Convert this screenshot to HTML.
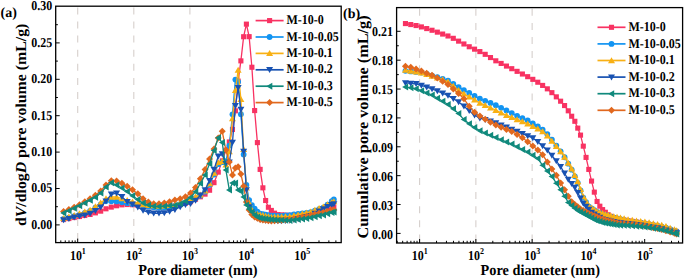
<!DOCTYPE html>
<html><head><meta charset="utf-8"><style>html,body{margin:0;padding:0;background:#fff;}svg{display:block;}</style></head><body>
<svg width="685" height="279" viewBox="0 0 685 279" font-family='"Liberation Serif", serif' text-rendering="geometricPrecision">
<rect width="685" height="279" fill="#fff"/>
<line x1="77.70" y1="7.40" x2="77.70" y2="242.60" stroke="#d6cfcc" stroke-width="1.1" stroke-dasharray="7 7.1"/>
<line x1="133.80" y1="7.40" x2="133.80" y2="242.60" stroke="#d6cfcc" stroke-width="1.1" stroke-dasharray="7 7.1"/>
<line x1="189.90" y1="7.40" x2="189.90" y2="242.60" stroke="#d6cfcc" stroke-width="1.1" stroke-dasharray="7 7.1"/>
<line x1="419.60" y1="8.80" x2="419.60" y2="243.00" stroke="#d6cfcc" stroke-width="1.1" stroke-dasharray="7 7.1"/>
<line x1="475.87" y1="8.80" x2="475.87" y2="243.00" stroke="#d6cfcc" stroke-width="1.1" stroke-dasharray="7 7.1"/>
<line x1="532.14" y1="8.80" x2="532.14" y2="243.00" stroke="#d6cfcc" stroke-width="1.1" stroke-dasharray="7 7.1"/>
<path d="M63.59 219.59 L68.89 218.56 L74.19 217.54 L79.49 216.52 L84.79 215.50 L90.09 214.47 L95.39 212.87 L100.69 211.15 L105.99 208.80 L111.29 207.11 L116.59 205.77 L121.89 204.86 L127.19 204.54 L132.49 204.72 L137.79 205.26 L143.09 205.80 L148.39 206.23 L153.69 206.58 L158.99 206.93 L164.29 206.71 L169.59 206.36 L174.89 206.01 L180.19 204.62 L185.46 203.21 L190.57 201.72 L195.53 199.23 L200.36 196.80 L205.04 194.12 L209.59 190.23 L214.01 182.65 L218.28 172.13 L222.24 160.88 L225.91 150.19 L229.32 141.97 L232.47 129.46 L235.39 110.84 L238.14 81.07 L240.89 60.88 L243.64 36.73 L246.39 24.13 L249.14 36.65 L251.89 67.24 L254.64 110.57 L257.39 142.61 L260.14 169.38 L262.89 187.83 L265.64 200.52 L268.39 207.26 L271.35 210.43 L274.52 213.18 L277.92 214.61 L281.58 214.85 L285.51 215.10 L289.71 215.38 L293.91 215.13 L298.11 214.83 L302.31 214.54 L306.51 214.24 L310.71 213.86 L314.91 213.02 L319.11 212.18 L323.31 211.34 L327.51 209.81 L331.71 207.82 L333.85 207.00" fill="none" stroke="#F83262" stroke-width="1.3"/>
<g><rect x="61.04" y="217.04" width="5.10" height="5.10" fill="#F83262"/><rect x="66.34" y="216.01" width="5.10" height="5.10" fill="#F83262"/><rect x="71.64" y="214.99" width="5.10" height="5.10" fill="#F83262"/><rect x="76.94" y="213.97" width="5.10" height="5.10" fill="#F83262"/><rect x="82.24" y="212.95" width="5.10" height="5.10" fill="#F83262"/><rect x="87.54" y="211.92" width="5.10" height="5.10" fill="#F83262"/><rect x="92.84" y="210.32" width="5.10" height="5.10" fill="#F83262"/><rect x="98.14" y="208.60" width="5.10" height="5.10" fill="#F83262"/><rect x="103.44" y="206.25" width="5.10" height="5.10" fill="#F83262"/><rect x="108.74" y="204.56" width="5.10" height="5.10" fill="#F83262"/><rect x="114.04" y="203.22" width="5.10" height="5.10" fill="#F83262"/><rect x="119.34" y="202.31" width="5.10" height="5.10" fill="#F83262"/><rect x="124.64" y="201.99" width="5.10" height="5.10" fill="#F83262"/><rect x="129.94" y="202.17" width="5.10" height="5.10" fill="#F83262"/><rect x="135.24" y="202.71" width="5.10" height="5.10" fill="#F83262"/><rect x="140.54" y="203.25" width="5.10" height="5.10" fill="#F83262"/><rect x="145.84" y="203.68" width="5.10" height="5.10" fill="#F83262"/><rect x="151.14" y="204.03" width="5.10" height="5.10" fill="#F83262"/><rect x="156.44" y="204.38" width="5.10" height="5.10" fill="#F83262"/><rect x="161.74" y="204.16" width="5.10" height="5.10" fill="#F83262"/><rect x="167.04" y="203.81" width="5.10" height="5.10" fill="#F83262"/><rect x="172.34" y="203.46" width="5.10" height="5.10" fill="#F83262"/><rect x="177.64" y="202.07" width="5.10" height="5.10" fill="#F83262"/><rect x="182.91" y="200.66" width="5.10" height="5.10" fill="#F83262"/><rect x="188.02" y="199.17" width="5.10" height="5.10" fill="#F83262"/><rect x="192.98" y="196.68" width="5.10" height="5.10" fill="#F83262"/><rect x="197.81" y="194.25" width="5.10" height="5.10" fill="#F83262"/><rect x="202.49" y="191.57" width="5.10" height="5.10" fill="#F83262"/><rect x="207.04" y="187.68" width="5.10" height="5.10" fill="#F83262"/><rect x="211.46" y="180.10" width="5.10" height="5.10" fill="#F83262"/><rect x="215.73" y="169.58" width="5.10" height="5.10" fill="#F83262"/><rect x="219.69" y="158.33" width="5.10" height="5.10" fill="#F83262"/><rect x="223.36" y="147.64" width="5.10" height="5.10" fill="#F83262"/><rect x="226.77" y="139.42" width="5.10" height="5.10" fill="#F83262"/><rect x="229.92" y="126.91" width="5.10" height="5.10" fill="#F83262"/><rect x="232.84" y="108.29" width="5.10" height="5.10" fill="#F83262"/><rect x="235.59" y="78.52" width="5.10" height="5.10" fill="#F83262"/><rect x="238.34" y="58.33" width="5.10" height="5.10" fill="#F83262"/><rect x="241.09" y="34.18" width="5.10" height="5.10" fill="#F83262"/><rect x="243.84" y="21.58" width="5.10" height="5.10" fill="#F83262"/><rect x="246.59" y="34.10" width="5.10" height="5.10" fill="#F83262"/><rect x="249.34" y="64.69" width="5.10" height="5.10" fill="#F83262"/><rect x="252.09" y="108.02" width="5.10" height="5.10" fill="#F83262"/><rect x="254.84" y="140.06" width="5.10" height="5.10" fill="#F83262"/><rect x="257.59" y="166.83" width="5.10" height="5.10" fill="#F83262"/><rect x="260.34" y="185.28" width="5.10" height="5.10" fill="#F83262"/><rect x="263.09" y="197.97" width="5.10" height="5.10" fill="#F83262"/><rect x="265.84" y="204.71" width="5.10" height="5.10" fill="#F83262"/><rect x="268.80" y="207.88" width="5.10" height="5.10" fill="#F83262"/><rect x="271.97" y="210.63" width="5.10" height="5.10" fill="#F83262"/><rect x="275.37" y="212.06" width="5.10" height="5.10" fill="#F83262"/><rect x="279.03" y="212.30" width="5.10" height="5.10" fill="#F83262"/><rect x="282.96" y="212.55" width="5.10" height="5.10" fill="#F83262"/><rect x="287.16" y="212.83" width="5.10" height="5.10" fill="#F83262"/><rect x="291.36" y="212.58" width="5.10" height="5.10" fill="#F83262"/><rect x="295.56" y="212.28" width="5.10" height="5.10" fill="#F83262"/><rect x="299.76" y="211.99" width="5.10" height="5.10" fill="#F83262"/><rect x="303.96" y="211.69" width="5.10" height="5.10" fill="#F83262"/><rect x="308.16" y="211.31" width="5.10" height="5.10" fill="#F83262"/><rect x="312.36" y="210.47" width="5.10" height="5.10" fill="#F83262"/><rect x="316.56" y="209.63" width="5.10" height="5.10" fill="#F83262"/><rect x="320.76" y="208.79" width="5.10" height="5.10" fill="#F83262"/><rect x="324.96" y="207.26" width="5.10" height="5.10" fill="#F83262"/><rect x="329.16" y="205.27" width="5.10" height="5.10" fill="#F83262"/><rect x="331.30" y="204.45" width="5.10" height="5.10" fill="#F83262"/></g>
<path d="M63.59 218.95 L68.89 217.58 L74.19 216.22 L79.49 214.64 L84.79 212.80 L90.09 210.95 L95.39 207.77 L100.69 204.52 L105.99 201.01 L111.29 201.23 L116.59 201.46 L121.89 202.23 L127.19 203.13 L132.49 204.00 L137.79 204.84 L143.09 205.69 L148.39 206.45 L153.69 207.16 L158.99 207.87 L164.29 207.43 L169.59 206.72 L174.89 206.01 L180.19 204.27 L185.46 202.51 L190.57 200.72 L195.53 198.23 L200.36 195.69 L205.04 191.68 L209.59 184.82 L214.01 174.48 L218.28 164.21 L222.24 162.21 L225.91 161.06 L229.32 145.62 L232.47 114.35 L235.39 79.54 L238.14 81.86 L240.89 114.18 L243.64 154.45 L246.39 184.92 L249.14 200.04 L251.89 205.07 L254.64 208.59 L257.39 211.57 L260.14 213.53 L262.89 214.08 L265.64 214.63 L268.39 215.18 L271.35 215.57 L274.52 215.73 L277.92 215.90 L281.58 215.84 L285.51 215.45 L289.71 215.03 L293.91 214.51 L298.11 213.99 L302.31 213.46 L306.51 212.94 L310.71 212.24 L314.91 210.70 L319.11 209.16 L323.31 207.62 L327.51 204.77 L331.71 201.04 L333.85 199.50" fill="none" stroke="#1294F2" stroke-width="1.3"/>
<g><circle cx="63.59" cy="218.95" r="2.90" fill="#1294F2"/><circle cx="68.89" cy="217.58" r="2.90" fill="#1294F2"/><circle cx="74.19" cy="216.22" r="2.90" fill="#1294F2"/><circle cx="79.49" cy="214.64" r="2.90" fill="#1294F2"/><circle cx="84.79" cy="212.80" r="2.90" fill="#1294F2"/><circle cx="90.09" cy="210.95" r="2.90" fill="#1294F2"/><circle cx="95.39" cy="207.77" r="2.90" fill="#1294F2"/><circle cx="100.69" cy="204.52" r="2.90" fill="#1294F2"/><circle cx="105.99" cy="201.01" r="2.90" fill="#1294F2"/><circle cx="111.29" cy="201.23" r="2.90" fill="#1294F2"/><circle cx="116.59" cy="201.46" r="2.90" fill="#1294F2"/><circle cx="121.89" cy="202.23" r="2.90" fill="#1294F2"/><circle cx="127.19" cy="203.13" r="2.90" fill="#1294F2"/><circle cx="132.49" cy="204.00" r="2.90" fill="#1294F2"/><circle cx="137.79" cy="204.84" r="2.90" fill="#1294F2"/><circle cx="143.09" cy="205.69" r="2.90" fill="#1294F2"/><circle cx="148.39" cy="206.45" r="2.90" fill="#1294F2"/><circle cx="153.69" cy="207.16" r="2.90" fill="#1294F2"/><circle cx="158.99" cy="207.87" r="2.90" fill="#1294F2"/><circle cx="164.29" cy="207.43" r="2.90" fill="#1294F2"/><circle cx="169.59" cy="206.72" r="2.90" fill="#1294F2"/><circle cx="174.89" cy="206.01" r="2.90" fill="#1294F2"/><circle cx="180.19" cy="204.27" r="2.90" fill="#1294F2"/><circle cx="185.46" cy="202.51" r="2.90" fill="#1294F2"/><circle cx="190.57" cy="200.72" r="2.90" fill="#1294F2"/><circle cx="195.53" cy="198.23" r="2.90" fill="#1294F2"/><circle cx="200.36" cy="195.69" r="2.90" fill="#1294F2"/><circle cx="205.04" cy="191.68" r="2.90" fill="#1294F2"/><circle cx="209.59" cy="184.82" r="2.90" fill="#1294F2"/><circle cx="214.01" cy="174.48" r="2.90" fill="#1294F2"/><circle cx="218.28" cy="164.21" r="2.90" fill="#1294F2"/><circle cx="222.24" cy="162.21" r="2.90" fill="#1294F2"/><circle cx="225.91" cy="161.06" r="2.90" fill="#1294F2"/><circle cx="229.32" cy="145.62" r="2.90" fill="#1294F2"/><circle cx="232.47" cy="114.35" r="2.90" fill="#1294F2"/><circle cx="235.39" cy="79.54" r="2.90" fill="#1294F2"/><circle cx="238.14" cy="81.86" r="2.90" fill="#1294F2"/><circle cx="240.89" cy="114.18" r="2.90" fill="#1294F2"/><circle cx="243.64" cy="154.45" r="2.90" fill="#1294F2"/><circle cx="246.39" cy="184.92" r="2.90" fill="#1294F2"/><circle cx="249.14" cy="200.04" r="2.90" fill="#1294F2"/><circle cx="251.89" cy="205.07" r="2.90" fill="#1294F2"/><circle cx="254.64" cy="208.59" r="2.90" fill="#1294F2"/><circle cx="257.39" cy="211.57" r="2.90" fill="#1294F2"/><circle cx="260.14" cy="213.53" r="2.90" fill="#1294F2"/><circle cx="262.89" cy="214.08" r="2.90" fill="#1294F2"/><circle cx="265.64" cy="214.63" r="2.90" fill="#1294F2"/><circle cx="268.39" cy="215.18" r="2.90" fill="#1294F2"/><circle cx="271.35" cy="215.57" r="2.90" fill="#1294F2"/><circle cx="274.52" cy="215.73" r="2.90" fill="#1294F2"/><circle cx="277.92" cy="215.90" r="2.90" fill="#1294F2"/><circle cx="281.58" cy="215.84" r="2.90" fill="#1294F2"/><circle cx="285.51" cy="215.45" r="2.90" fill="#1294F2"/><circle cx="289.71" cy="215.03" r="2.90" fill="#1294F2"/><circle cx="293.91" cy="214.51" r="2.90" fill="#1294F2"/><circle cx="298.11" cy="213.99" r="2.90" fill="#1294F2"/><circle cx="302.31" cy="213.46" r="2.90" fill="#1294F2"/><circle cx="306.51" cy="212.94" r="2.90" fill="#1294F2"/><circle cx="310.71" cy="212.24" r="2.90" fill="#1294F2"/><circle cx="314.91" cy="210.70" r="2.90" fill="#1294F2"/><circle cx="319.11" cy="209.16" r="2.90" fill="#1294F2"/><circle cx="323.31" cy="207.62" r="2.90" fill="#1294F2"/><circle cx="327.51" cy="204.77" r="2.90" fill="#1294F2"/><circle cx="331.71" cy="201.04" r="2.90" fill="#1294F2"/><circle cx="333.85" cy="199.50" r="2.90" fill="#1294F2"/></g>
<path d="M63.59 218.38 L68.89 216.85 L74.19 215.31 L79.49 213.64 L84.79 211.80 L90.09 209.94 L95.39 206.50 L100.69 202.92 L105.99 198.51 L111.29 197.00 L116.59 197.00 L121.89 198.58 L127.19 200.29 L132.49 201.79 L137.79 203.15 L143.09 204.51 L148.39 205.23 L153.69 205.58 L158.99 205.93 L164.29 205.71 L169.59 205.36 L174.89 205.01 L180.19 202.92 L185.46 200.82 L190.57 198.77 L195.53 196.79 L200.36 194.69 L205.04 190.68 L209.59 183.50 L214.01 172.98 L218.28 162.30 L222.24 161.36 L225.91 164.81 L229.32 151.46 L232.47 118.64 L235.39 90.22 L238.14 70.00 L240.89 99.24 L243.64 149.31 L246.39 187.90 L249.14 203.06 L251.89 210.07 L254.64 213.52 L257.39 214.14 L260.14 214.77 L262.89 215.39 L265.64 216.01 L268.39 216.64 L271.35 216.97 L274.52 216.89 L277.92 216.80 L281.58 216.71 L285.51 216.61 L289.71 216.51 L293.91 215.62 L298.11 214.68 L302.31 213.73 L306.51 212.79 L310.71 211.72 L314.91 210.04 L319.11 208.36 L323.31 206.68 L327.51 204.66 L331.71 202.42 L333.85 201.50" fill="none" stroke="#F8B014" stroke-width="1.3"/>
<g><path d="M63.59 215.08L67.09 221.08L60.09 221.08Z" fill="#F8B014"/><path d="M68.89 213.55L72.39 219.55L65.39 219.55Z" fill="#F8B014"/><path d="M74.19 212.01L77.69 218.01L70.69 218.01Z" fill="#F8B014"/><path d="M79.49 210.34L82.99 216.34L75.99 216.34Z" fill="#F8B014"/><path d="M84.79 208.50L88.29 214.50L81.29 214.50Z" fill="#F8B014"/><path d="M90.09 206.64L93.59 212.64L86.59 212.64Z" fill="#F8B014"/><path d="M95.39 203.20L98.89 209.20L91.89 209.20Z" fill="#F8B014"/><path d="M100.69 199.62L104.19 205.62L97.19 205.62Z" fill="#F8B014"/><path d="M105.99 195.21L109.49 201.21L102.49 201.21Z" fill="#F8B014"/><path d="M111.29 193.70L114.79 199.70L107.79 199.70Z" fill="#F8B014"/><path d="M116.59 193.70L120.09 199.70L113.09 199.70Z" fill="#F8B014"/><path d="M121.89 195.28L125.39 201.28L118.39 201.28Z" fill="#F8B014"/><path d="M127.19 196.99L130.69 202.99L123.69 202.99Z" fill="#F8B014"/><path d="M132.49 198.49L135.99 204.49L128.99 204.49Z" fill="#F8B014"/><path d="M137.79 199.85L141.29 205.85L134.29 205.85Z" fill="#F8B014"/><path d="M143.09 201.21L146.59 207.21L139.59 207.21Z" fill="#F8B014"/><path d="M148.39 201.93L151.89 207.93L144.89 207.93Z" fill="#F8B014"/><path d="M153.69 202.28L157.19 208.28L150.19 208.28Z" fill="#F8B014"/><path d="M158.99 202.63L162.49 208.63L155.49 208.63Z" fill="#F8B014"/><path d="M164.29 202.41L167.79 208.41L160.79 208.41Z" fill="#F8B014"/><path d="M169.59 202.06L173.09 208.06L166.09 208.06Z" fill="#F8B014"/><path d="M174.89 201.71L178.39 207.71L171.39 207.71Z" fill="#F8B014"/><path d="M180.19 199.62L183.69 205.62L176.69 205.62Z" fill="#F8B014"/><path d="M185.46 197.52L188.96 203.52L181.96 203.52Z" fill="#F8B014"/><path d="M190.57 195.47L194.07 201.47L187.07 201.47Z" fill="#F8B014"/><path d="M195.53 193.49L199.03 199.49L192.03 199.49Z" fill="#F8B014"/><path d="M200.36 191.39L203.86 197.39L196.86 197.39Z" fill="#F8B014"/><path d="M205.04 187.38L208.54 193.38L201.54 193.38Z" fill="#F8B014"/><path d="M209.59 180.20L213.09 186.20L206.09 186.20Z" fill="#F8B014"/><path d="M214.01 169.68L217.51 175.68L210.51 175.68Z" fill="#F8B014"/><path d="M218.28 159.00L221.78 165.00L214.78 165.00Z" fill="#F8B014"/><path d="M222.24 158.06L225.74 164.06L218.74 164.06Z" fill="#F8B014"/><path d="M225.91 161.51L229.41 167.51L222.41 167.51Z" fill="#F8B014"/><path d="M229.32 148.16L232.82 154.16L225.82 154.16Z" fill="#F8B014"/><path d="M232.47 115.34L235.97 121.34L228.97 121.34Z" fill="#F8B014"/><path d="M235.39 86.92L238.89 92.92L231.89 92.92Z" fill="#F8B014"/><path d="M238.14 66.70L241.64 72.70L234.64 72.70Z" fill="#F8B014"/><path d="M240.89 95.94L244.39 101.94L237.39 101.94Z" fill="#F8B014"/><path d="M243.64 146.01L247.14 152.01L240.14 152.01Z" fill="#F8B014"/><path d="M246.39 184.60L249.89 190.60L242.89 190.60Z" fill="#F8B014"/><path d="M249.14 199.76L252.64 205.76L245.64 205.76Z" fill="#F8B014"/><path d="M251.89 206.77L255.39 212.77L248.39 212.77Z" fill="#F8B014"/><path d="M254.64 210.22L258.14 216.22L251.14 216.22Z" fill="#F8B014"/><path d="M257.39 210.84L260.89 216.84L253.89 216.84Z" fill="#F8B014"/><path d="M260.14 211.47L263.64 217.47L256.64 217.47Z" fill="#F8B014"/><path d="M262.89 212.09L266.39 218.09L259.39 218.09Z" fill="#F8B014"/><path d="M265.64 212.71L269.14 218.71L262.14 218.71Z" fill="#F8B014"/><path d="M268.39 213.34L271.89 219.34L264.89 219.34Z" fill="#F8B014"/><path d="M271.35 213.67L274.85 219.67L267.85 219.67Z" fill="#F8B014"/><path d="M274.52 213.59L278.02 219.59L271.02 219.59Z" fill="#F8B014"/><path d="M277.92 213.50L281.42 219.50L274.42 219.50Z" fill="#F8B014"/><path d="M281.58 213.41L285.08 219.41L278.08 219.41Z" fill="#F8B014"/><path d="M285.51 213.31L289.01 219.31L282.01 219.31Z" fill="#F8B014"/><path d="M289.71 213.21L293.21 219.21L286.21 219.21Z" fill="#F8B014"/><path d="M293.91 212.32L297.41 218.32L290.41 218.32Z" fill="#F8B014"/><path d="M298.11 211.38L301.61 217.38L294.61 217.38Z" fill="#F8B014"/><path d="M302.31 210.43L305.81 216.43L298.81 216.43Z" fill="#F8B014"/><path d="M306.51 209.49L310.01 215.49L303.01 215.49Z" fill="#F8B014"/><path d="M310.71 208.42L314.21 214.42L307.21 214.42Z" fill="#F8B014"/><path d="M314.91 206.74L318.41 212.74L311.41 212.74Z" fill="#F8B014"/><path d="M319.11 205.06L322.61 211.06L315.61 211.06Z" fill="#F8B014"/><path d="M323.31 203.38L326.81 209.38L319.81 209.38Z" fill="#F8B014"/><path d="M327.51 201.36L331.01 207.36L324.01 207.36Z" fill="#F8B014"/><path d="M331.71 199.12L335.21 205.12L328.21 205.12Z" fill="#F8B014"/><path d="M333.85 198.20L337.35 204.20L330.35 204.20Z" fill="#F8B014"/></g>
<path d="M63.59 219.95 L68.89 218.58 L74.19 217.22 L79.49 216.05 L84.79 215.08 L90.09 213.45 L95.39 210.74 L100.69 207.23 L105.99 201.18 L111.29 194.28 L116.59 193.08 L121.89 196.76 L127.19 201.61 L132.49 204.28 L137.79 207.27 L143.09 210.51 L148.39 212.25 L153.69 213.32 L158.99 213.28 L164.29 213.01 L169.59 211.43 L174.89 209.70 L180.19 206.96 L185.46 204.69 L190.57 203.59 L195.53 200.36 L200.36 195.22 L205.04 189.91 L209.59 180.64 L214.01 169.54 L218.28 156.22 L222.24 153.90 L225.91 163.69 L229.32 162.25 L232.47 142.43 L235.39 105.68 L238.14 87.80 L240.89 109.44 L243.64 151.42 L246.39 189.90 L249.14 207.05 L251.89 213.57 L254.64 217.04 L257.39 218.30 L260.14 219.52 L262.89 219.93 L265.64 220.35 L268.39 220.76 L271.35 221.00 L274.52 221.00 L277.92 221.00 L281.58 220.92 L285.51 220.72 L289.71 220.51 L293.91 219.62 L298.11 218.68 L302.31 217.73 L306.51 216.79 L310.71 215.62 L314.91 213.38 L319.11 211.14 L323.31 208.90 L327.51 206.81 L331.71 204.82 L333.85 204.00" fill="none" stroke="#1852B2" stroke-width="1.3"/>
<g><path d="M63.59 223.25L67.09 217.25L60.09 217.25Z" fill="#1852B2"/><path d="M68.89 221.88L72.39 215.88L65.39 215.88Z" fill="#1852B2"/><path d="M74.19 220.52L77.69 214.52L70.69 214.52Z" fill="#1852B2"/><path d="M79.49 219.35L82.99 213.35L75.99 213.35Z" fill="#1852B2"/><path d="M84.79 218.38L88.29 212.38L81.29 212.38Z" fill="#1852B2"/><path d="M90.09 216.75L93.59 210.75L86.59 210.75Z" fill="#1852B2"/><path d="M95.39 214.04L98.89 208.04L91.89 208.04Z" fill="#1852B2"/><path d="M100.69 210.53L104.19 204.53L97.19 204.53Z" fill="#1852B2"/><path d="M105.99 204.48L109.49 198.48L102.49 198.48Z" fill="#1852B2"/><path d="M111.29 197.58L114.79 191.58L107.79 191.58Z" fill="#1852B2"/><path d="M116.59 196.38L120.09 190.38L113.09 190.38Z" fill="#1852B2"/><path d="M121.89 200.06L125.39 194.06L118.39 194.06Z" fill="#1852B2"/><path d="M127.19 204.91L130.69 198.91L123.69 198.91Z" fill="#1852B2"/><path d="M132.49 207.58L135.99 201.58L128.99 201.58Z" fill="#1852B2"/><path d="M137.79 210.57L141.29 204.57L134.29 204.57Z" fill="#1852B2"/><path d="M143.09 213.81L146.59 207.81L139.59 207.81Z" fill="#1852B2"/><path d="M148.39 215.55L151.89 209.55L144.89 209.55Z" fill="#1852B2"/><path d="M153.69 216.62L157.19 210.62L150.19 210.62Z" fill="#1852B2"/><path d="M158.99 216.58L162.49 210.58L155.49 210.58Z" fill="#1852B2"/><path d="M164.29 216.31L167.79 210.31L160.79 210.31Z" fill="#1852B2"/><path d="M169.59 214.73L173.09 208.73L166.09 208.73Z" fill="#1852B2"/><path d="M174.89 213.00L178.39 207.00L171.39 207.00Z" fill="#1852B2"/><path d="M180.19 210.26L183.69 204.26L176.69 204.26Z" fill="#1852B2"/><path d="M185.46 207.99L188.96 201.99L181.96 201.99Z" fill="#1852B2"/><path d="M190.57 206.89L194.07 200.89L187.07 200.89Z" fill="#1852B2"/><path d="M195.53 203.66L199.03 197.66L192.03 197.66Z" fill="#1852B2"/><path d="M200.36 198.52L203.86 192.52L196.86 192.52Z" fill="#1852B2"/><path d="M205.04 193.21L208.54 187.21L201.54 187.21Z" fill="#1852B2"/><path d="M209.59 183.94L213.09 177.94L206.09 177.94Z" fill="#1852B2"/><path d="M214.01 172.84L217.51 166.84L210.51 166.84Z" fill="#1852B2"/><path d="M218.28 159.52L221.78 153.52L214.78 153.52Z" fill="#1852B2"/><path d="M222.24 157.20L225.74 151.20L218.74 151.20Z" fill="#1852B2"/><path d="M225.91 166.99L229.41 160.99L222.41 160.99Z" fill="#1852B2"/><path d="M229.32 165.55L232.82 159.55L225.82 159.55Z" fill="#1852B2"/><path d="M232.47 145.73L235.97 139.73L228.97 139.73Z" fill="#1852B2"/><path d="M235.39 108.98L238.89 102.98L231.89 102.98Z" fill="#1852B2"/><path d="M238.14 91.10L241.64 85.10L234.64 85.10Z" fill="#1852B2"/><path d="M240.89 112.74L244.39 106.74L237.39 106.74Z" fill="#1852B2"/><path d="M243.64 154.72L247.14 148.72L240.14 148.72Z" fill="#1852B2"/><path d="M246.39 193.20L249.89 187.20L242.89 187.20Z" fill="#1852B2"/><path d="M249.14 210.35L252.64 204.35L245.64 204.35Z" fill="#1852B2"/><path d="M251.89 216.87L255.39 210.87L248.39 210.87Z" fill="#1852B2"/><path d="M254.64 220.34L258.14 214.34L251.14 214.34Z" fill="#1852B2"/><path d="M257.39 221.60L260.89 215.60L253.89 215.60Z" fill="#1852B2"/><path d="M260.14 222.82L263.64 216.82L256.64 216.82Z" fill="#1852B2"/><path d="M262.89 223.23L266.39 217.23L259.39 217.23Z" fill="#1852B2"/><path d="M265.64 223.65L269.14 217.65L262.14 217.65Z" fill="#1852B2"/><path d="M268.39 224.06L271.89 218.06L264.89 218.06Z" fill="#1852B2"/><path d="M271.35 224.30L274.85 218.30L267.85 218.30Z" fill="#1852B2"/><path d="M274.52 224.30L278.02 218.30L271.02 218.30Z" fill="#1852B2"/><path d="M277.92 224.30L281.42 218.30L274.42 218.30Z" fill="#1852B2"/><path d="M281.58 224.22L285.08 218.22L278.08 218.22Z" fill="#1852B2"/><path d="M285.51 224.02L289.01 218.02L282.01 218.02Z" fill="#1852B2"/><path d="M289.71 223.81L293.21 217.81L286.21 217.81Z" fill="#1852B2"/><path d="M293.91 222.92L297.41 216.92L290.41 216.92Z" fill="#1852B2"/><path d="M298.11 221.98L301.61 215.98L294.61 215.98Z" fill="#1852B2"/><path d="M302.31 221.03L305.81 215.03L298.81 215.03Z" fill="#1852B2"/><path d="M306.51 220.09L310.01 214.09L303.01 214.09Z" fill="#1852B2"/><path d="M310.71 218.92L314.21 212.92L307.21 212.92Z" fill="#1852B2"/><path d="M314.91 216.68L318.41 210.68L311.41 210.68Z" fill="#1852B2"/><path d="M319.11 214.44L322.61 208.44L315.61 208.44Z" fill="#1852B2"/><path d="M323.31 212.20L326.81 206.20L319.81 206.20Z" fill="#1852B2"/><path d="M327.51 210.11L331.01 204.11L324.01 204.11Z" fill="#1852B2"/><path d="M331.71 208.12L335.21 202.12L328.21 202.12Z" fill="#1852B2"/><path d="M333.85 207.30L337.35 201.30L330.35 201.30Z" fill="#1852B2"/></g>
<path d="M63.59 211.60 L68.89 209.39 L74.19 207.17 L79.49 204.64 L84.79 201.75 L90.09 198.67 L95.39 195.30 L100.69 191.05 L105.99 185.01 L111.29 180.87 L116.59 180.98 L121.89 183.13 L127.19 186.37 L132.49 189.68 L137.79 193.75 L143.09 198.82 L148.39 202.07 L153.69 203.70 L158.99 203.66 L164.29 202.91 L169.59 201.86 L174.89 199.89 L180.19 198.70 L185.46 196.82 L190.57 192.99 L195.53 187.51 L200.36 178.83 L205.04 169.62 L209.59 159.12 L214.01 148.98 L218.28 137.93 L222.24 131.34 L225.91 150.05 L229.32 162.06 L232.47 174.88 L235.39 168.02 L238.14 166.71 L240.89 173.98 L243.64 186.24 L246.39 201.96 L249.14 210.07 L251.89 214.55 L254.64 217.04 L257.39 218.30 L260.14 219.52 L262.89 219.93 L265.64 220.35 L268.39 220.76 L271.35 220.90 L274.52 220.66 L277.92 220.41 L281.58 220.13 L285.51 219.84 L289.71 219.52 L293.91 218.72 L298.11 217.88 L302.31 217.04 L306.51 216.20 L310.71 215.33 L314.91 214.35 L319.11 213.37 L323.31 212.39 L327.51 211.41 L331.71 210.41 L333.85 210.00" fill="none" stroke="#E1681E" stroke-width="1.3"/>
<g><path d="M63.59 208.10L67.09 211.60L63.59 215.10L60.09 211.60Z" fill="#E1681E"/><path d="M68.89 205.89L72.39 209.39L68.89 212.89L65.39 209.39Z" fill="#E1681E"/><path d="M74.19 203.67L77.69 207.17L74.19 210.67L70.69 207.17Z" fill="#E1681E"/><path d="M79.49 201.14L82.99 204.64L79.49 208.14L75.99 204.64Z" fill="#E1681E"/><path d="M84.79 198.25L88.29 201.75L84.79 205.25L81.29 201.75Z" fill="#E1681E"/><path d="M90.09 195.17L93.59 198.67L90.09 202.17L86.59 198.67Z" fill="#E1681E"/><path d="M95.39 191.80L98.89 195.30L95.39 198.80L91.89 195.30Z" fill="#E1681E"/><path d="M100.69 187.55L104.19 191.05L100.69 194.55L97.19 191.05Z" fill="#E1681E"/><path d="M105.99 181.51L109.49 185.01L105.99 188.51L102.49 185.01Z" fill="#E1681E"/><path d="M111.29 177.37L114.79 180.87L111.29 184.37L107.79 180.87Z" fill="#E1681E"/><path d="M116.59 177.48L120.09 180.98L116.59 184.48L113.09 180.98Z" fill="#E1681E"/><path d="M121.89 179.63L125.39 183.13L121.89 186.63L118.39 183.13Z" fill="#E1681E"/><path d="M127.19 182.87L130.69 186.37L127.19 189.87L123.69 186.37Z" fill="#E1681E"/><path d="M132.49 186.18L135.99 189.68L132.49 193.18L128.99 189.68Z" fill="#E1681E"/><path d="M137.79 190.25L141.29 193.75L137.79 197.25L134.29 193.75Z" fill="#E1681E"/><path d="M143.09 195.32L146.59 198.82L143.09 202.32L139.59 198.82Z" fill="#E1681E"/><path d="M148.39 198.57L151.89 202.07L148.39 205.57L144.89 202.07Z" fill="#E1681E"/><path d="M153.69 200.20L157.19 203.70L153.69 207.20L150.19 203.70Z" fill="#E1681E"/><path d="M158.99 200.16L162.49 203.66L158.99 207.16L155.49 203.66Z" fill="#E1681E"/><path d="M164.29 199.41L167.79 202.91L164.29 206.41L160.79 202.91Z" fill="#E1681E"/><path d="M169.59 198.36L173.09 201.86L169.59 205.36L166.09 201.86Z" fill="#E1681E"/><path d="M174.89 196.39L178.39 199.89L174.89 203.39L171.39 199.89Z" fill="#E1681E"/><path d="M180.19 195.20L183.69 198.70L180.19 202.20L176.69 198.70Z" fill="#E1681E"/><path d="M185.46 193.32L188.96 196.82L185.46 200.32L181.96 196.82Z" fill="#E1681E"/><path d="M190.57 189.49L194.07 192.99L190.57 196.49L187.07 192.99Z" fill="#E1681E"/><path d="M195.53 184.01L199.03 187.51L195.53 191.01L192.03 187.51Z" fill="#E1681E"/><path d="M200.36 175.33L203.86 178.83L200.36 182.33L196.86 178.83Z" fill="#E1681E"/><path d="M205.04 166.12L208.54 169.62L205.04 173.12L201.54 169.62Z" fill="#E1681E"/><path d="M209.59 155.62L213.09 159.12L209.59 162.62L206.09 159.12Z" fill="#E1681E"/><path d="M214.01 145.48L217.51 148.98L214.01 152.48L210.51 148.98Z" fill="#E1681E"/><path d="M218.28 134.43L221.78 137.93L218.28 141.43L214.78 137.93Z" fill="#E1681E"/><path d="M222.24 127.84L225.74 131.34L222.24 134.84L218.74 131.34Z" fill="#E1681E"/><path d="M225.91 146.55L229.41 150.05L225.91 153.55L222.41 150.05Z" fill="#E1681E"/><path d="M229.32 158.56L232.82 162.06L229.32 165.56L225.82 162.06Z" fill="#E1681E"/><path d="M232.47 171.38L235.97 174.88L232.47 178.38L228.97 174.88Z" fill="#E1681E"/><path d="M235.39 164.52L238.89 168.02L235.39 171.52L231.89 168.02Z" fill="#E1681E"/><path d="M238.14 163.21L241.64 166.71L238.14 170.21L234.64 166.71Z" fill="#E1681E"/><path d="M240.89 170.48L244.39 173.98L240.89 177.48L237.39 173.98Z" fill="#E1681E"/><path d="M243.64 182.74L247.14 186.24L243.64 189.74L240.14 186.24Z" fill="#E1681E"/><path d="M246.39 198.46L249.89 201.96L246.39 205.46L242.89 201.96Z" fill="#E1681E"/><path d="M249.14 206.57L252.64 210.07L249.14 213.57L245.64 210.07Z" fill="#E1681E"/><path d="M251.89 211.05L255.39 214.55L251.89 218.05L248.39 214.55Z" fill="#E1681E"/><path d="M254.64 213.54L258.14 217.04L254.64 220.54L251.14 217.04Z" fill="#E1681E"/><path d="M257.39 214.80L260.89 218.30L257.39 221.80L253.89 218.30Z" fill="#E1681E"/><path d="M260.14 216.02L263.64 219.52L260.14 223.02L256.64 219.52Z" fill="#E1681E"/><path d="M262.89 216.43L266.39 219.93L262.89 223.43L259.39 219.93Z" fill="#E1681E"/><path d="M265.64 216.85L269.14 220.35L265.64 223.85L262.14 220.35Z" fill="#E1681E"/><path d="M268.39 217.26L271.89 220.76L268.39 224.26L264.89 220.76Z" fill="#E1681E"/><path d="M271.35 217.40L274.85 220.90L271.35 224.40L267.85 220.90Z" fill="#E1681E"/><path d="M274.52 217.16L278.02 220.66L274.52 224.16L271.02 220.66Z" fill="#E1681E"/><path d="M277.92 216.91L281.42 220.41L277.92 223.91L274.42 220.41Z" fill="#E1681E"/><path d="M281.58 216.63L285.08 220.13L281.58 223.63L278.08 220.13Z" fill="#E1681E"/><path d="M285.51 216.34L289.01 219.84L285.51 223.34L282.01 219.84Z" fill="#E1681E"/><path d="M289.71 216.02L293.21 219.52L289.71 223.02L286.21 219.52Z" fill="#E1681E"/><path d="M293.91 215.22L297.41 218.72L293.91 222.22L290.41 218.72Z" fill="#E1681E"/><path d="M298.11 214.38L301.61 217.88L298.11 221.38L294.61 217.88Z" fill="#E1681E"/><path d="M302.31 213.54L305.81 217.04L302.31 220.54L298.81 217.04Z" fill="#E1681E"/><path d="M306.51 212.70L310.01 216.20L306.51 219.70L303.01 216.20Z" fill="#E1681E"/><path d="M310.71 211.83L314.21 215.33L310.71 218.83L307.21 215.33Z" fill="#E1681E"/><path d="M314.91 210.85L318.41 214.35L314.91 217.85L311.41 214.35Z" fill="#E1681E"/><path d="M319.11 209.87L322.61 213.37L319.11 216.87L315.61 213.37Z" fill="#E1681E"/><path d="M323.31 208.89L326.81 212.39L323.31 215.89L319.81 212.39Z" fill="#E1681E"/><path d="M327.51 207.91L331.01 211.41L327.51 214.91L324.01 211.41Z" fill="#E1681E"/><path d="M331.71 206.91L335.21 210.41L331.71 213.91L328.21 210.41Z" fill="#E1681E"/><path d="M333.85 206.50L337.35 210.00L333.85 213.50L330.35 210.00Z" fill="#E1681E"/></g>
<path d="M63.59 213.03 L68.89 210.65 L74.19 208.26 L79.49 205.75 L84.79 203.10 L90.09 200.26 L95.39 197.13 L100.69 193.05 L105.99 187.10 L111.29 182.83 L116.59 185.10 L121.89 187.97 L127.19 191.45 L132.49 195.68 L137.79 199.55 L143.09 203.07 L148.39 205.02 L153.69 206.35 L158.99 206.50 L164.29 206.23 L169.59 205.71 L174.89 205.20 L180.19 203.83 L185.46 201.20 L190.57 197.43 L195.53 191.66 L200.36 183.54 L205.04 175.04 L209.59 163.71 L214.01 150.54 L218.28 137.74 L222.24 142.42 L225.91 170.08 L229.32 189.97 L232.47 183.07 L235.39 183.00 L238.14 190.02 L240.89 191.00 L243.64 197.12 L246.39 204.98 L249.14 209.05 L251.89 212.06 L254.64 215.03 L257.39 217.02 L260.14 218.02 L262.89 218.43 L265.64 218.85 L268.39 219.26 L271.35 219.57 L274.52 219.73 L277.92 219.90 L281.58 220.08 L285.51 220.28 L289.71 220.49 L293.91 220.01 L298.11 219.49 L302.31 218.96 L306.51 218.44 L310.71 217.83 L314.91 216.85 L319.11 215.87 L323.31 214.89 L327.51 213.76 L331.71 212.51 L333.85 212.00" fill="none" stroke="#10897C" stroke-width="1.3"/>
<g><path d="M60.29 213.03L66.29 209.53L66.29 216.53Z" fill="#10897C"/><path d="M65.59 210.65L71.59 207.15L71.59 214.15Z" fill="#10897C"/><path d="M70.89 208.26L76.89 204.76L76.89 211.76Z" fill="#10897C"/><path d="M76.19 205.75L82.19 202.25L82.19 209.25Z" fill="#10897C"/><path d="M81.49 203.10L87.49 199.60L87.49 206.60Z" fill="#10897C"/><path d="M86.79 200.26L92.79 196.76L92.79 203.76Z" fill="#10897C"/><path d="M92.09 197.13L98.09 193.63L98.09 200.63Z" fill="#10897C"/><path d="M97.39 193.05L103.39 189.55L103.39 196.55Z" fill="#10897C"/><path d="M102.69 187.10L108.69 183.60L108.69 190.60Z" fill="#10897C"/><path d="M107.99 182.83L113.99 179.33L113.99 186.33Z" fill="#10897C"/><path d="M113.29 185.10L119.29 181.60L119.29 188.60Z" fill="#10897C"/><path d="M118.59 187.97L124.59 184.47L124.59 191.47Z" fill="#10897C"/><path d="M123.89 191.45L129.89 187.95L129.89 194.95Z" fill="#10897C"/><path d="M129.19 195.68L135.19 192.18L135.19 199.18Z" fill="#10897C"/><path d="M134.49 199.55L140.49 196.05L140.49 203.05Z" fill="#10897C"/><path d="M139.79 203.07L145.79 199.57L145.79 206.57Z" fill="#10897C"/><path d="M145.09 205.02L151.09 201.52L151.09 208.52Z" fill="#10897C"/><path d="M150.39 206.35L156.39 202.85L156.39 209.85Z" fill="#10897C"/><path d="M155.69 206.50L161.69 203.00L161.69 210.00Z" fill="#10897C"/><path d="M160.99 206.23L166.99 202.73L166.99 209.73Z" fill="#10897C"/><path d="M166.29 205.71L172.29 202.21L172.29 209.21Z" fill="#10897C"/><path d="M171.59 205.20L177.59 201.70L177.59 208.70Z" fill="#10897C"/><path d="M176.89 203.83L182.89 200.33L182.89 207.33Z" fill="#10897C"/><path d="M182.16 201.20L188.16 197.70L188.16 204.70Z" fill="#10897C"/><path d="M187.27 197.43L193.27 193.93L193.27 200.93Z" fill="#10897C"/><path d="M192.23 191.66L198.23 188.16L198.23 195.16Z" fill="#10897C"/><path d="M197.06 183.54L203.06 180.04L203.06 187.04Z" fill="#10897C"/><path d="M201.74 175.04L207.74 171.54L207.74 178.54Z" fill="#10897C"/><path d="M206.29 163.71L212.29 160.21L212.29 167.21Z" fill="#10897C"/><path d="M210.71 150.54L216.71 147.04L216.71 154.04Z" fill="#10897C"/><path d="M214.98 137.74L220.98 134.24L220.98 141.24Z" fill="#10897C"/><path d="M218.94 142.42L224.94 138.92L224.94 145.92Z" fill="#10897C"/><path d="M222.61 170.08L228.61 166.58L228.61 173.58Z" fill="#10897C"/><path d="M226.02 189.97L232.02 186.47L232.02 193.47Z" fill="#10897C"/><path d="M229.17 183.07L235.17 179.57L235.17 186.57Z" fill="#10897C"/><path d="M232.09 183.00L238.09 179.50L238.09 186.50Z" fill="#10897C"/><path d="M234.84 190.02L240.84 186.52L240.84 193.52Z" fill="#10897C"/><path d="M237.59 191.00L243.59 187.50L243.59 194.50Z" fill="#10897C"/><path d="M240.34 197.12L246.34 193.62L246.34 200.62Z" fill="#10897C"/><path d="M243.09 204.98L249.09 201.48L249.09 208.48Z" fill="#10897C"/><path d="M245.84 209.05L251.84 205.55L251.84 212.55Z" fill="#10897C"/><path d="M248.59 212.06L254.59 208.56L254.59 215.56Z" fill="#10897C"/><path d="M251.34 215.03L257.34 211.53L257.34 218.53Z" fill="#10897C"/><path d="M254.09 217.02L260.09 213.52L260.09 220.52Z" fill="#10897C"/><path d="M256.84 218.02L262.84 214.52L262.84 221.52Z" fill="#10897C"/><path d="M259.59 218.43L265.59 214.93L265.59 221.93Z" fill="#10897C"/><path d="M262.34 218.85L268.34 215.35L268.34 222.35Z" fill="#10897C"/><path d="M265.09 219.26L271.09 215.76L271.09 222.76Z" fill="#10897C"/><path d="M268.05 219.57L274.05 216.07L274.05 223.07Z" fill="#10897C"/><path d="M271.22 219.73L277.22 216.23L277.22 223.23Z" fill="#10897C"/><path d="M274.62 219.90L280.62 216.40L280.62 223.40Z" fill="#10897C"/><path d="M278.28 220.08L284.28 216.58L284.28 223.58Z" fill="#10897C"/><path d="M282.21 220.28L288.21 216.78L288.21 223.78Z" fill="#10897C"/><path d="M286.41 220.49L292.41 216.99L292.41 223.99Z" fill="#10897C"/><path d="M290.61 220.01L296.61 216.51L296.61 223.51Z" fill="#10897C"/><path d="M294.81 219.49L300.81 215.99L300.81 222.99Z" fill="#10897C"/><path d="M299.01 218.96L305.01 215.46L305.01 222.46Z" fill="#10897C"/><path d="M303.21 218.44L309.21 214.94L309.21 221.94Z" fill="#10897C"/><path d="M307.41 217.83L313.41 214.33L313.41 221.33Z" fill="#10897C"/><path d="M311.61 216.85L317.61 213.35L317.61 220.35Z" fill="#10897C"/><path d="M315.81 215.87L321.81 212.37L321.81 219.37Z" fill="#10897C"/><path d="M320.01 214.89L326.01 211.39L326.01 218.39Z" fill="#10897C"/><path d="M324.21 213.76L330.21 210.26L330.21 217.26Z" fill="#10897C"/><path d="M328.41 212.51L334.41 209.01L334.41 216.01Z" fill="#10897C"/><path d="M330.55 212.00L336.55 208.50L336.55 215.50Z" fill="#10897C"/></g>
<path d="M405.45 23.57 L410.76 24.56 L416.08 25.55 L421.40 26.91 L426.71 28.58 L432.03 30.26 L437.34 32.14 L442.66 34.06 L447.98 35.98 L453.29 38.32 L458.61 41.14 L463.92 43.97 L469.24 46.75 L474.56 49.16 L479.87 51.58 L485.19 54.33 L490.50 57.57 L495.82 60.81 L501.14 63.44 L506.45 66.07 L511.77 68.70 L517.08 71.35 L522.40 74.02 L527.68 76.68 L532.81 79.34 L537.79 82.22 L542.63 85.42 L547.33 88.84 L551.89 92.66 L556.32 96.85 L560.61 101.20 L564.58 105.56 L568.26 110.81 L571.68 116.24 L574.84 121.29 L577.77 128.13 L580.53 135.12 L583.29 146.15 L586.05 157.40 L588.80 169.41 L591.56 181.07 L594.32 192.14 L597.08 201.48 L599.84 206.19 L602.60 209.62 L605.35 212.26 L608.11 214.74 L610.87 216.34 L613.83 217.69 L617.02 218.89 L620.43 219.49 L624.10 220.07 L628.04 220.69 L632.25 221.38 L636.47 222.08 L640.68 222.78 L644.89 223.48 L649.10 224.46 L653.32 225.44 L657.53 226.42 L661.74 227.47 L665.95 228.62 L670.17 229.77 L674.38 230.92 L676.53 231.50" fill="none" stroke="#F83262" stroke-width="1.3"/>
<g><rect x="402.90" y="21.02" width="5.10" height="5.10" fill="#F83262"/><rect x="408.21" y="22.01" width="5.10" height="5.10" fill="#F83262"/><rect x="413.53" y="23.00" width="5.10" height="5.10" fill="#F83262"/><rect x="418.85" y="24.36" width="5.10" height="5.10" fill="#F83262"/><rect x="424.16" y="26.03" width="5.10" height="5.10" fill="#F83262"/><rect x="429.48" y="27.71" width="5.10" height="5.10" fill="#F83262"/><rect x="434.79" y="29.59" width="5.10" height="5.10" fill="#F83262"/><rect x="440.11" y="31.51" width="5.10" height="5.10" fill="#F83262"/><rect x="445.43" y="33.43" width="5.10" height="5.10" fill="#F83262"/><rect x="450.74" y="35.77" width="5.10" height="5.10" fill="#F83262"/><rect x="456.06" y="38.59" width="5.10" height="5.10" fill="#F83262"/><rect x="461.37" y="41.42" width="5.10" height="5.10" fill="#F83262"/><rect x="466.69" y="44.20" width="5.10" height="5.10" fill="#F83262"/><rect x="472.01" y="46.61" width="5.10" height="5.10" fill="#F83262"/><rect x="477.32" y="49.03" width="5.10" height="5.10" fill="#F83262"/><rect x="482.64" y="51.78" width="5.10" height="5.10" fill="#F83262"/><rect x="487.95" y="55.02" width="5.10" height="5.10" fill="#F83262"/><rect x="493.27" y="58.26" width="5.10" height="5.10" fill="#F83262"/><rect x="498.59" y="60.89" width="5.10" height="5.10" fill="#F83262"/><rect x="503.90" y="63.52" width="5.10" height="5.10" fill="#F83262"/><rect x="509.22" y="66.15" width="5.10" height="5.10" fill="#F83262"/><rect x="514.53" y="68.80" width="5.10" height="5.10" fill="#F83262"/><rect x="519.85" y="71.47" width="5.10" height="5.10" fill="#F83262"/><rect x="525.13" y="74.13" width="5.10" height="5.10" fill="#F83262"/><rect x="530.26" y="76.79" width="5.10" height="5.10" fill="#F83262"/><rect x="535.24" y="79.67" width="5.10" height="5.10" fill="#F83262"/><rect x="540.08" y="82.87" width="5.10" height="5.10" fill="#F83262"/><rect x="544.78" y="86.29" width="5.10" height="5.10" fill="#F83262"/><rect x="549.34" y="90.11" width="5.10" height="5.10" fill="#F83262"/><rect x="553.77" y="94.30" width="5.10" height="5.10" fill="#F83262"/><rect x="558.06" y="98.65" width="5.10" height="5.10" fill="#F83262"/><rect x="562.03" y="103.01" width="5.10" height="5.10" fill="#F83262"/><rect x="565.71" y="108.26" width="5.10" height="5.10" fill="#F83262"/><rect x="569.13" y="113.69" width="5.10" height="5.10" fill="#F83262"/><rect x="572.29" y="118.74" width="5.10" height="5.10" fill="#F83262"/><rect x="575.22" y="125.58" width="5.10" height="5.10" fill="#F83262"/><rect x="577.98" y="132.57" width="5.10" height="5.10" fill="#F83262"/><rect x="580.74" y="143.60" width="5.10" height="5.10" fill="#F83262"/><rect x="583.50" y="154.85" width="5.10" height="5.10" fill="#F83262"/><rect x="586.25" y="166.86" width="5.10" height="5.10" fill="#F83262"/><rect x="589.01" y="178.52" width="5.10" height="5.10" fill="#F83262"/><rect x="591.77" y="189.59" width="5.10" height="5.10" fill="#F83262"/><rect x="594.53" y="198.93" width="5.10" height="5.10" fill="#F83262"/><rect x="597.29" y="203.64" width="5.10" height="5.10" fill="#F83262"/><rect x="600.05" y="207.07" width="5.10" height="5.10" fill="#F83262"/><rect x="602.80" y="209.71" width="5.10" height="5.10" fill="#F83262"/><rect x="605.56" y="212.19" width="5.10" height="5.10" fill="#F83262"/><rect x="608.32" y="213.79" width="5.10" height="5.10" fill="#F83262"/><rect x="611.28" y="215.14" width="5.10" height="5.10" fill="#F83262"/><rect x="614.47" y="216.34" width="5.10" height="5.10" fill="#F83262"/><rect x="617.88" y="216.94" width="5.10" height="5.10" fill="#F83262"/><rect x="621.55" y="217.52" width="5.10" height="5.10" fill="#F83262"/><rect x="625.49" y="218.14" width="5.10" height="5.10" fill="#F83262"/><rect x="629.70" y="218.83" width="5.10" height="5.10" fill="#F83262"/><rect x="633.92" y="219.53" width="5.10" height="5.10" fill="#F83262"/><rect x="638.13" y="220.23" width="5.10" height="5.10" fill="#F83262"/><rect x="642.34" y="220.93" width="5.10" height="5.10" fill="#F83262"/><rect x="646.55" y="221.91" width="5.10" height="5.10" fill="#F83262"/><rect x="650.77" y="222.89" width="5.10" height="5.10" fill="#F83262"/><rect x="654.98" y="223.87" width="5.10" height="5.10" fill="#F83262"/><rect x="659.19" y="224.92" width="5.10" height="5.10" fill="#F83262"/><rect x="663.40" y="226.07" width="5.10" height="5.10" fill="#F83262"/><rect x="667.62" y="227.22" width="5.10" height="5.10" fill="#F83262"/><rect x="671.83" y="228.37" width="5.10" height="5.10" fill="#F83262"/><rect x="673.98" y="228.95" width="5.10" height="5.10" fill="#F83262"/></g>
<path d="M405.45 70.83 L410.76 71.40 L416.08 71.97 L421.40 72.54 L426.71 74.01 L432.03 75.61 L437.34 77.20 L442.66 78.80 L447.98 80.69 L453.29 83.92 L458.61 87.15 L463.92 90.10 L469.24 92.95 L474.56 95.79 L479.87 98.63 L485.19 100.81 L490.50 102.99 L495.82 105.21 L501.14 107.81 L506.45 110.43 L511.77 113.11 L517.08 115.78 L522.40 118.13 L527.68 120.47 L532.81 123.41 L537.79 126.35 L542.63 129.63 L547.33 134.13 L551.89 139.74 L556.32 145.62 L560.61 151.32 L564.58 157.26 L568.26 163.68 L571.68 169.66 L574.84 176.32 L577.77 182.80 L580.53 190.44 L583.29 197.63 L586.05 202.15 L588.80 206.57 L591.56 208.35 L594.32 210.14 L597.08 211.92 L599.84 213.14 L602.60 214.33 L605.35 215.18 L608.11 215.99 L610.87 216.79 L613.83 217.54 L617.02 218.32 L620.43 219.15 L624.10 220.05 L628.04 221.01 L632.25 221.59 L636.47 222.18 L640.68 222.77 L644.89 223.36 L649.10 224.12 L653.32 224.94 L657.53 225.76 L661.74 226.58 L665.95 227.73 L670.17 229.24 L674.38 230.74 L676.53 231.50" fill="none" stroke="#1294F2" stroke-width="1.3"/>
<g><circle cx="405.45" cy="70.83" r="2.90" fill="#1294F2"/><circle cx="410.76" cy="71.40" r="2.90" fill="#1294F2"/><circle cx="416.08" cy="71.97" r="2.90" fill="#1294F2"/><circle cx="421.40" cy="72.54" r="2.90" fill="#1294F2"/><circle cx="426.71" cy="74.01" r="2.90" fill="#1294F2"/><circle cx="432.03" cy="75.61" r="2.90" fill="#1294F2"/><circle cx="437.34" cy="77.20" r="2.90" fill="#1294F2"/><circle cx="442.66" cy="78.80" r="2.90" fill="#1294F2"/><circle cx="447.98" cy="80.69" r="2.90" fill="#1294F2"/><circle cx="453.29" cy="83.92" r="2.90" fill="#1294F2"/><circle cx="458.61" cy="87.15" r="2.90" fill="#1294F2"/><circle cx="463.92" cy="90.10" r="2.90" fill="#1294F2"/><circle cx="469.24" cy="92.95" r="2.90" fill="#1294F2"/><circle cx="474.56" cy="95.79" r="2.90" fill="#1294F2"/><circle cx="479.87" cy="98.63" r="2.90" fill="#1294F2"/><circle cx="485.19" cy="100.81" r="2.90" fill="#1294F2"/><circle cx="490.50" cy="102.99" r="2.90" fill="#1294F2"/><circle cx="495.82" cy="105.21" r="2.90" fill="#1294F2"/><circle cx="501.14" cy="107.81" r="2.90" fill="#1294F2"/><circle cx="506.45" cy="110.43" r="2.90" fill="#1294F2"/><circle cx="511.77" cy="113.11" r="2.90" fill="#1294F2"/><circle cx="517.08" cy="115.78" r="2.90" fill="#1294F2"/><circle cx="522.40" cy="118.13" r="2.90" fill="#1294F2"/><circle cx="527.68" cy="120.47" r="2.90" fill="#1294F2"/><circle cx="532.81" cy="123.41" r="2.90" fill="#1294F2"/><circle cx="537.79" cy="126.35" r="2.90" fill="#1294F2"/><circle cx="542.63" cy="129.63" r="2.90" fill="#1294F2"/><circle cx="547.33" cy="134.13" r="2.90" fill="#1294F2"/><circle cx="551.89" cy="139.74" r="2.90" fill="#1294F2"/><circle cx="556.32" cy="145.62" r="2.90" fill="#1294F2"/><circle cx="560.61" cy="151.32" r="2.90" fill="#1294F2"/><circle cx="564.58" cy="157.26" r="2.90" fill="#1294F2"/><circle cx="568.26" cy="163.68" r="2.90" fill="#1294F2"/><circle cx="571.68" cy="169.66" r="2.90" fill="#1294F2"/><circle cx="574.84" cy="176.32" r="2.90" fill="#1294F2"/><circle cx="577.77" cy="182.80" r="2.90" fill="#1294F2"/><circle cx="580.53" cy="190.44" r="2.90" fill="#1294F2"/><circle cx="583.29" cy="197.63" r="2.90" fill="#1294F2"/><circle cx="586.05" cy="202.15" r="2.90" fill="#1294F2"/><circle cx="588.80" cy="206.57" r="2.90" fill="#1294F2"/><circle cx="591.56" cy="208.35" r="2.90" fill="#1294F2"/><circle cx="594.32" cy="210.14" r="2.90" fill="#1294F2"/><circle cx="597.08" cy="211.92" r="2.90" fill="#1294F2"/><circle cx="599.84" cy="213.14" r="2.90" fill="#1294F2"/><circle cx="602.60" cy="214.33" r="2.90" fill="#1294F2"/><circle cx="605.35" cy="215.18" r="2.90" fill="#1294F2"/><circle cx="608.11" cy="215.99" r="2.90" fill="#1294F2"/><circle cx="610.87" cy="216.79" r="2.90" fill="#1294F2"/><circle cx="613.83" cy="217.54" r="2.90" fill="#1294F2"/><circle cx="617.02" cy="218.32" r="2.90" fill="#1294F2"/><circle cx="620.43" cy="219.15" r="2.90" fill="#1294F2"/><circle cx="624.10" cy="220.05" r="2.90" fill="#1294F2"/><circle cx="628.04" cy="221.01" r="2.90" fill="#1294F2"/><circle cx="632.25" cy="221.59" r="2.90" fill="#1294F2"/><circle cx="636.47" cy="222.18" r="2.90" fill="#1294F2"/><circle cx="640.68" cy="222.77" r="2.90" fill="#1294F2"/><circle cx="644.89" cy="223.36" r="2.90" fill="#1294F2"/><circle cx="649.10" cy="224.12" r="2.90" fill="#1294F2"/><circle cx="653.32" cy="224.94" r="2.90" fill="#1294F2"/><circle cx="657.53" cy="225.76" r="2.90" fill="#1294F2"/><circle cx="661.74" cy="226.58" r="2.90" fill="#1294F2"/><circle cx="665.95" cy="227.73" r="2.90" fill="#1294F2"/><circle cx="670.17" cy="229.24" r="2.90" fill="#1294F2"/><circle cx="674.38" cy="230.74" r="2.90" fill="#1294F2"/><circle cx="676.53" cy="231.50" r="2.90" fill="#1294F2"/></g>
<path d="M405.45 70.10 L410.76 70.97 L416.08 71.83 L421.40 72.70 L426.71 74.35 L432.03 76.09 L437.34 77.83 L442.66 79.58 L447.98 81.79 L453.29 86.08 L458.61 90.38 L463.92 93.76 L469.24 96.82 L474.56 99.88 L479.87 102.93 L485.19 105.35 L490.50 107.77 L495.82 110.21 L501.14 112.81 L506.45 115.33 L511.77 117.40 L517.08 119.48 L522.40 121.66 L527.68 123.84 L532.81 126.31 L537.79 128.70 L542.63 131.59 L547.33 135.88 L551.89 141.04 L556.32 146.36 L560.61 151.52 L564.58 157.03 L568.26 163.15 L571.68 168.85 L574.84 175.23 L577.77 181.51 L580.53 189.19 L583.29 196.47 L586.05 201.28 L588.80 205.97 L591.56 207.82 L594.32 209.67 L597.08 211.52 L599.84 212.46 L602.60 213.37 L605.35 214.18 L608.11 214.99 L610.87 215.79 L613.83 216.48 L617.02 217.16 L620.43 217.88 L624.10 218.67 L628.04 219.51 L632.25 220.09 L636.47 220.68 L640.68 221.27 L644.89 221.86 L649.10 222.62 L653.32 223.44 L657.53 224.26 L661.74 225.08 L665.95 226.32 L670.17 227.99 L674.38 229.66 L676.53 230.50" fill="none" stroke="#F8B014" stroke-width="1.3"/>
<g><path d="M405.45 66.80L408.95 72.80L401.95 72.80Z" fill="#F8B014"/><path d="M410.76 67.67L414.26 73.67L407.26 73.67Z" fill="#F8B014"/><path d="M416.08 68.53L419.58 74.53L412.58 74.53Z" fill="#F8B014"/><path d="M421.40 69.40L424.90 75.40L417.90 75.40Z" fill="#F8B014"/><path d="M426.71 71.05L430.21 77.05L423.21 77.05Z" fill="#F8B014"/><path d="M432.03 72.79L435.53 78.79L428.53 78.79Z" fill="#F8B014"/><path d="M437.34 74.53L440.84 80.53L433.84 80.53Z" fill="#F8B014"/><path d="M442.66 76.28L446.16 82.28L439.16 82.28Z" fill="#F8B014"/><path d="M447.98 78.49L451.48 84.49L444.48 84.49Z" fill="#F8B014"/><path d="M453.29 82.78L456.79 88.78L449.79 88.78Z" fill="#F8B014"/><path d="M458.61 87.08L462.11 93.08L455.11 93.08Z" fill="#F8B014"/><path d="M463.92 90.46L467.42 96.46L460.42 96.46Z" fill="#F8B014"/><path d="M469.24 93.52L472.74 99.52L465.74 99.52Z" fill="#F8B014"/><path d="M474.56 96.58L478.06 102.58L471.06 102.58Z" fill="#F8B014"/><path d="M479.87 99.63L483.37 105.63L476.37 105.63Z" fill="#F8B014"/><path d="M485.19 102.05L488.69 108.05L481.69 108.05Z" fill="#F8B014"/><path d="M490.50 104.47L494.00 110.47L487.00 110.47Z" fill="#F8B014"/><path d="M495.82 106.91L499.32 112.91L492.32 112.91Z" fill="#F8B014"/><path d="M501.14 109.51L504.64 115.51L497.64 115.51Z" fill="#F8B014"/><path d="M506.45 112.03L509.95 118.03L502.95 118.03Z" fill="#F8B014"/><path d="M511.77 114.10L515.27 120.10L508.27 120.10Z" fill="#F8B014"/><path d="M517.08 116.18L520.58 122.18L513.58 122.18Z" fill="#F8B014"/><path d="M522.40 118.36L525.90 124.36L518.90 124.36Z" fill="#F8B014"/><path d="M527.68 120.54L531.18 126.54L524.18 126.54Z" fill="#F8B014"/><path d="M532.81 123.01L536.31 129.01L529.31 129.01Z" fill="#F8B014"/><path d="M537.79 125.40L541.29 131.40L534.29 131.40Z" fill="#F8B014"/><path d="M542.63 128.29L546.13 134.29L539.13 134.29Z" fill="#F8B014"/><path d="M547.33 132.58L550.83 138.58L543.83 138.58Z" fill="#F8B014"/><path d="M551.89 137.74L555.39 143.74L548.39 143.74Z" fill="#F8B014"/><path d="M556.32 143.06L559.82 149.06L552.82 149.06Z" fill="#F8B014"/><path d="M560.61 148.22L564.11 154.22L557.11 154.22Z" fill="#F8B014"/><path d="M564.58 153.73L568.08 159.73L561.08 159.73Z" fill="#F8B014"/><path d="M568.26 159.85L571.76 165.85L564.76 165.85Z" fill="#F8B014"/><path d="M571.68 165.55L575.18 171.55L568.18 171.55Z" fill="#F8B014"/><path d="M574.84 171.93L578.34 177.93L571.34 177.93Z" fill="#F8B014"/><path d="M577.77 178.21L581.27 184.21L574.27 184.21Z" fill="#F8B014"/><path d="M580.53 185.89L584.03 191.89L577.03 191.89Z" fill="#F8B014"/><path d="M583.29 193.17L586.79 199.17L579.79 199.17Z" fill="#F8B014"/><path d="M586.05 197.98L589.55 203.98L582.55 203.98Z" fill="#F8B014"/><path d="M588.80 202.67L592.30 208.67L585.30 208.67Z" fill="#F8B014"/><path d="M591.56 204.52L595.06 210.52L588.06 210.52Z" fill="#F8B014"/><path d="M594.32 206.37L597.82 212.37L590.82 212.37Z" fill="#F8B014"/><path d="M597.08 208.22L600.58 214.22L593.58 214.22Z" fill="#F8B014"/><path d="M599.84 209.16L603.34 215.16L596.34 215.16Z" fill="#F8B014"/><path d="M602.60 210.07L606.10 216.07L599.10 216.07Z" fill="#F8B014"/><path d="M605.35 210.88L608.85 216.88L601.85 216.88Z" fill="#F8B014"/><path d="M608.11 211.69L611.61 217.69L604.61 217.69Z" fill="#F8B014"/><path d="M610.87 212.49L614.37 218.49L607.37 218.49Z" fill="#F8B014"/><path d="M613.83 213.18L617.33 219.18L610.33 219.18Z" fill="#F8B014"/><path d="M617.02 213.86L620.52 219.86L613.52 219.86Z" fill="#F8B014"/><path d="M620.43 214.58L623.93 220.58L616.93 220.58Z" fill="#F8B014"/><path d="M624.10 215.37L627.60 221.37L620.60 221.37Z" fill="#F8B014"/><path d="M628.04 216.21L631.54 222.21L624.54 222.21Z" fill="#F8B014"/><path d="M632.25 216.79L635.75 222.79L628.75 222.79Z" fill="#F8B014"/><path d="M636.47 217.38L639.97 223.38L632.97 223.38Z" fill="#F8B014"/><path d="M640.68 217.97L644.18 223.97L637.18 223.97Z" fill="#F8B014"/><path d="M644.89 218.56L648.39 224.56L641.39 224.56Z" fill="#F8B014"/><path d="M649.10 219.32L652.60 225.32L645.60 225.32Z" fill="#F8B014"/><path d="M653.32 220.14L656.82 226.14L649.82 226.14Z" fill="#F8B014"/><path d="M657.53 220.96L661.03 226.96L654.03 226.96Z" fill="#F8B014"/><path d="M661.74 221.78L665.24 227.78L658.24 227.78Z" fill="#F8B014"/><path d="M665.95 223.02L669.45 229.02L662.45 229.02Z" fill="#F8B014"/><path d="M670.17 224.69L673.67 230.69L666.67 230.69Z" fill="#F8B014"/><path d="M674.38 226.36L677.88 232.36L670.88 232.36Z" fill="#F8B014"/><path d="M676.53 227.20L680.03 233.20L673.03 233.20Z" fill="#F8B014"/></g>
<path d="M405.45 82.90 L410.76 83.36 L416.08 83.82 L421.40 85.36 L426.71 87.12 L432.03 88.88 L437.34 91.05 L442.66 93.24 L447.98 95.57 L453.29 98.80 L458.61 102.04 L463.92 106.22 L469.24 110.66 L474.56 115.09 L479.87 118.11 L485.19 119.72 L490.50 121.32 L495.82 123.06 L501.14 125.15 L506.45 127.24 L511.77 129.33 L517.08 131.42 L522.40 133.63 L527.68 135.84 L532.81 137.98 L537.79 141.73 L542.63 146.06 L547.33 150.27 L551.89 155.50 L556.32 161.06 L560.61 166.65 L564.58 173.30 L568.26 179.47 L571.68 183.75 L574.84 187.53 L577.77 192.59 L580.53 198.19 L583.29 203.43 L586.05 206.47 L588.80 209.52 L591.56 212.54 L594.32 214.22 L597.08 215.90 L599.84 217.57 L602.60 219.25 L605.35 219.98 L608.11 220.55 L610.87 221.12 L613.83 221.73 L617.02 222.39 L620.43 223.04 L624.10 223.41 L628.04 223.80 L632.25 224.23 L636.47 224.65 L640.68 225.12 L644.89 225.86 L649.10 226.59 L653.32 227.33 L657.53 228.07 L661.74 228.97 L665.95 230.12 L670.17 231.27 L674.38 232.42 L676.53 233.00" fill="none" stroke="#1852B2" stroke-width="1.3"/>
<g><path d="M405.45 86.20L408.95 80.20L401.95 80.20Z" fill="#1852B2"/><path d="M410.76 86.66L414.26 80.66L407.26 80.66Z" fill="#1852B2"/><path d="M416.08 87.12L419.58 81.12L412.58 81.12Z" fill="#1852B2"/><path d="M421.40 88.66L424.90 82.66L417.90 82.66Z" fill="#1852B2"/><path d="M426.71 90.42L430.21 84.42L423.21 84.42Z" fill="#1852B2"/><path d="M432.03 92.18L435.53 86.18L428.53 86.18Z" fill="#1852B2"/><path d="M437.34 94.35L440.84 88.35L433.84 88.35Z" fill="#1852B2"/><path d="M442.66 96.54L446.16 90.54L439.16 90.54Z" fill="#1852B2"/><path d="M447.98 98.87L451.48 92.87L444.48 92.87Z" fill="#1852B2"/><path d="M453.29 102.10L456.79 96.10L449.79 96.10Z" fill="#1852B2"/><path d="M458.61 105.34L462.11 99.34L455.11 99.34Z" fill="#1852B2"/><path d="M463.92 109.52L467.42 103.52L460.42 103.52Z" fill="#1852B2"/><path d="M469.24 113.96L472.74 107.96L465.74 107.96Z" fill="#1852B2"/><path d="M474.56 118.39L478.06 112.39L471.06 112.39Z" fill="#1852B2"/><path d="M479.87 121.41L483.37 115.41L476.37 115.41Z" fill="#1852B2"/><path d="M485.19 123.02L488.69 117.02L481.69 117.02Z" fill="#1852B2"/><path d="M490.50 124.62L494.00 118.62L487.00 118.62Z" fill="#1852B2"/><path d="M495.82 126.36L499.32 120.36L492.32 120.36Z" fill="#1852B2"/><path d="M501.14 128.45L504.64 122.45L497.64 122.45Z" fill="#1852B2"/><path d="M506.45 130.54L509.95 124.54L502.95 124.54Z" fill="#1852B2"/><path d="M511.77 132.63L515.27 126.63L508.27 126.63Z" fill="#1852B2"/><path d="M517.08 134.72L520.58 128.72L513.58 128.72Z" fill="#1852B2"/><path d="M522.40 136.93L525.90 130.93L518.90 130.93Z" fill="#1852B2"/><path d="M527.68 139.14L531.18 133.14L524.18 133.14Z" fill="#1852B2"/><path d="M532.81 141.28L536.31 135.28L529.31 135.28Z" fill="#1852B2"/><path d="M537.79 145.03L541.29 139.03L534.29 139.03Z" fill="#1852B2"/><path d="M542.63 149.36L546.13 143.36L539.13 143.36Z" fill="#1852B2"/><path d="M547.33 153.57L550.83 147.57L543.83 147.57Z" fill="#1852B2"/><path d="M551.89 158.80L555.39 152.80L548.39 152.80Z" fill="#1852B2"/><path d="M556.32 164.36L559.82 158.36L552.82 158.36Z" fill="#1852B2"/><path d="M560.61 169.95L564.11 163.95L557.11 163.95Z" fill="#1852B2"/><path d="M564.58 176.60L568.08 170.60L561.08 170.60Z" fill="#1852B2"/><path d="M568.26 182.77L571.76 176.77L564.76 176.77Z" fill="#1852B2"/><path d="M571.68 187.05L575.18 181.05L568.18 181.05Z" fill="#1852B2"/><path d="M574.84 190.83L578.34 184.83L571.34 184.83Z" fill="#1852B2"/><path d="M577.77 195.89L581.27 189.89L574.27 189.89Z" fill="#1852B2"/><path d="M580.53 201.49L584.03 195.49L577.03 195.49Z" fill="#1852B2"/><path d="M583.29 206.73L586.79 200.73L579.79 200.73Z" fill="#1852B2"/><path d="M586.05 209.77L589.55 203.77L582.55 203.77Z" fill="#1852B2"/><path d="M588.80 212.82L592.30 206.82L585.30 206.82Z" fill="#1852B2"/><path d="M591.56 215.84L595.06 209.84L588.06 209.84Z" fill="#1852B2"/><path d="M594.32 217.52L597.82 211.52L590.82 211.52Z" fill="#1852B2"/><path d="M597.08 219.20L600.58 213.20L593.58 213.20Z" fill="#1852B2"/><path d="M599.84 220.87L603.34 214.87L596.34 214.87Z" fill="#1852B2"/><path d="M602.60 222.55L606.10 216.55L599.10 216.55Z" fill="#1852B2"/><path d="M605.35 223.28L608.85 217.28L601.85 217.28Z" fill="#1852B2"/><path d="M608.11 223.85L611.61 217.85L604.61 217.85Z" fill="#1852B2"/><path d="M610.87 224.42L614.37 218.42L607.37 218.42Z" fill="#1852B2"/><path d="M613.83 225.03L617.33 219.03L610.33 219.03Z" fill="#1852B2"/><path d="M617.02 225.69L620.52 219.69L613.52 219.69Z" fill="#1852B2"/><path d="M620.43 226.34L623.93 220.34L616.93 220.34Z" fill="#1852B2"/><path d="M624.10 226.71L627.60 220.71L620.60 220.71Z" fill="#1852B2"/><path d="M628.04 227.10L631.54 221.10L624.54 221.10Z" fill="#1852B2"/><path d="M632.25 227.53L635.75 221.53L628.75 221.53Z" fill="#1852B2"/><path d="M636.47 227.95L639.97 221.95L632.97 221.95Z" fill="#1852B2"/><path d="M640.68 228.42L644.18 222.42L637.18 222.42Z" fill="#1852B2"/><path d="M644.89 229.16L648.39 223.16L641.39 223.16Z" fill="#1852B2"/><path d="M649.10 229.89L652.60 223.89L645.60 223.89Z" fill="#1852B2"/><path d="M653.32 230.63L656.82 224.63L649.82 224.63Z" fill="#1852B2"/><path d="M657.53 231.37L661.03 225.37L654.03 225.37Z" fill="#1852B2"/><path d="M661.74 232.27L665.24 226.27L658.24 226.27Z" fill="#1852B2"/><path d="M665.95 233.42L669.45 227.42L662.45 227.42Z" fill="#1852B2"/><path d="M670.17 234.57L673.67 228.57L666.67 228.57Z" fill="#1852B2"/><path d="M674.38 235.72L677.88 229.72L670.88 229.72Z" fill="#1852B2"/><path d="M676.53 236.30L680.03 230.30L673.03 230.30Z" fill="#1852B2"/></g>
<path d="M405.45 66.19 L410.76 67.25 L416.08 69.03 L421.40 71.03 L426.71 73.14 L432.03 75.27 L437.34 77.95 L442.66 81.16 L447.98 84.54 L453.29 88.94 L458.61 93.38 L463.92 98.83 L469.24 106.32 L474.56 112.18 L479.87 116.05 L485.19 119.14 L490.50 122.24 L495.82 125.07 L501.14 127.23 L506.45 129.38 L511.77 131.54 L517.08 134.42 L522.40 137.83 L527.68 141.85 L532.81 145.89 L537.79 149.97 L542.63 154.75 L547.33 162.03 L551.89 169.00 L556.32 175.33 L560.61 182.89 L564.58 189.86 L568.26 196.15 L571.68 201.75 L574.84 204.39 L577.77 206.84 L580.53 208.99 L583.29 210.51 L586.05 212.04 L588.80 213.54 L591.56 214.70 L594.32 215.86 L597.08 217.02 L599.84 218.17 L602.60 219.33 L605.35 220.05 L608.11 220.70 L610.87 221.35 L613.83 222.05 L617.02 222.80 L620.43 223.53 L624.10 223.81 L628.04 224.10 L632.25 224.42 L636.47 224.73 L640.68 225.14 L644.89 225.98 L649.10 226.82 L653.32 227.66 L657.53 228.51 L661.74 229.53 L665.95 230.80 L670.17 232.08 L674.38 233.36 L676.53 234.00" fill="none" stroke="#E1681E" stroke-width="1.3"/>
<g><path d="M405.45 62.69L408.95 66.19L405.45 69.69L401.95 66.19Z" fill="#E1681E"/><path d="M410.76 63.75L414.26 67.25L410.76 70.75L407.26 67.25Z" fill="#E1681E"/><path d="M416.08 65.53L419.58 69.03L416.08 72.53L412.58 69.03Z" fill="#E1681E"/><path d="M421.40 67.53L424.90 71.03L421.40 74.53L417.90 71.03Z" fill="#E1681E"/><path d="M426.71 69.64L430.21 73.14L426.71 76.64L423.21 73.14Z" fill="#E1681E"/><path d="M432.03 71.77L435.53 75.27L432.03 78.77L428.53 75.27Z" fill="#E1681E"/><path d="M437.34 74.45L440.84 77.95L437.34 81.45L433.84 77.95Z" fill="#E1681E"/><path d="M442.66 77.66L446.16 81.16L442.66 84.66L439.16 81.16Z" fill="#E1681E"/><path d="M447.98 81.04L451.48 84.54L447.98 88.04L444.48 84.54Z" fill="#E1681E"/><path d="M453.29 85.44L456.79 88.94L453.29 92.44L449.79 88.94Z" fill="#E1681E"/><path d="M458.61 89.88L462.11 93.38L458.61 96.88L455.11 93.38Z" fill="#E1681E"/><path d="M463.92 95.33L467.42 98.83L463.92 102.33L460.42 98.83Z" fill="#E1681E"/><path d="M469.24 102.82L472.74 106.32L469.24 109.82L465.74 106.32Z" fill="#E1681E"/><path d="M474.56 108.68L478.06 112.18L474.56 115.68L471.06 112.18Z" fill="#E1681E"/><path d="M479.87 112.55L483.37 116.05L479.87 119.55L476.37 116.05Z" fill="#E1681E"/><path d="M485.19 115.64L488.69 119.14L485.19 122.64L481.69 119.14Z" fill="#E1681E"/><path d="M490.50 118.74L494.00 122.24L490.50 125.74L487.00 122.24Z" fill="#E1681E"/><path d="M495.82 121.57L499.32 125.07L495.82 128.57L492.32 125.07Z" fill="#E1681E"/><path d="M501.14 123.73L504.64 127.23L501.14 130.73L497.64 127.23Z" fill="#E1681E"/><path d="M506.45 125.88L509.95 129.38L506.45 132.88L502.95 129.38Z" fill="#E1681E"/><path d="M511.77 128.04L515.27 131.54L511.77 135.04L508.27 131.54Z" fill="#E1681E"/><path d="M517.08 130.92L520.58 134.42L517.08 137.92L513.58 134.42Z" fill="#E1681E"/><path d="M522.40 134.33L525.90 137.83L522.40 141.33L518.90 137.83Z" fill="#E1681E"/><path d="M527.68 138.35L531.18 141.85L527.68 145.35L524.18 141.85Z" fill="#E1681E"/><path d="M532.81 142.39L536.31 145.89L532.81 149.39L529.31 145.89Z" fill="#E1681E"/><path d="M537.79 146.47L541.29 149.97L537.79 153.47L534.29 149.97Z" fill="#E1681E"/><path d="M542.63 151.25L546.13 154.75L542.63 158.25L539.13 154.75Z" fill="#E1681E"/><path d="M547.33 158.53L550.83 162.03L547.33 165.53L543.83 162.03Z" fill="#E1681E"/><path d="M551.89 165.50L555.39 169.00L551.89 172.50L548.39 169.00Z" fill="#E1681E"/><path d="M556.32 171.83L559.82 175.33L556.32 178.83L552.82 175.33Z" fill="#E1681E"/><path d="M560.61 179.39L564.11 182.89L560.61 186.39L557.11 182.89Z" fill="#E1681E"/><path d="M564.58 186.36L568.08 189.86L564.58 193.36L561.08 189.86Z" fill="#E1681E"/><path d="M568.26 192.65L571.76 196.15L568.26 199.65L564.76 196.15Z" fill="#E1681E"/><path d="M571.68 198.25L575.18 201.75L571.68 205.25L568.18 201.75Z" fill="#E1681E"/><path d="M574.84 200.89L578.34 204.39L574.84 207.89L571.34 204.39Z" fill="#E1681E"/><path d="M577.77 203.34L581.27 206.84L577.77 210.34L574.27 206.84Z" fill="#E1681E"/><path d="M580.53 205.49L584.03 208.99L580.53 212.49L577.03 208.99Z" fill="#E1681E"/><path d="M583.29 207.01L586.79 210.51L583.29 214.01L579.79 210.51Z" fill="#E1681E"/><path d="M586.05 208.54L589.55 212.04L586.05 215.54L582.55 212.04Z" fill="#E1681E"/><path d="M588.80 210.04L592.30 213.54L588.80 217.04L585.30 213.54Z" fill="#E1681E"/><path d="M591.56 211.20L595.06 214.70L591.56 218.20L588.06 214.70Z" fill="#E1681E"/><path d="M594.32 212.36L597.82 215.86L594.32 219.36L590.82 215.86Z" fill="#E1681E"/><path d="M597.08 213.52L600.58 217.02L597.08 220.52L593.58 217.02Z" fill="#E1681E"/><path d="M599.84 214.67L603.34 218.17L599.84 221.67L596.34 218.17Z" fill="#E1681E"/><path d="M602.60 215.83L606.10 219.33L602.60 222.83L599.10 219.33Z" fill="#E1681E"/><path d="M605.35 216.55L608.85 220.05L605.35 223.55L601.85 220.05Z" fill="#E1681E"/><path d="M608.11 217.20L611.61 220.70L608.11 224.20L604.61 220.70Z" fill="#E1681E"/><path d="M610.87 217.85L614.37 221.35L610.87 224.85L607.37 221.35Z" fill="#E1681E"/><path d="M613.83 218.55L617.33 222.05L613.83 225.55L610.33 222.05Z" fill="#E1681E"/><path d="M617.02 219.30L620.52 222.80L617.02 226.30L613.52 222.80Z" fill="#E1681E"/><path d="M620.43 220.03L623.93 223.53L620.43 227.03L616.93 223.53Z" fill="#E1681E"/><path d="M624.10 220.31L627.60 223.81L624.10 227.31L620.60 223.81Z" fill="#E1681E"/><path d="M628.04 220.60L631.54 224.10L628.04 227.60L624.54 224.10Z" fill="#E1681E"/><path d="M632.25 220.92L635.75 224.42L632.25 227.92L628.75 224.42Z" fill="#E1681E"/><path d="M636.47 221.23L639.97 224.73L636.47 228.23L632.97 224.73Z" fill="#E1681E"/><path d="M640.68 221.64L644.18 225.14L640.68 228.64L637.18 225.14Z" fill="#E1681E"/><path d="M644.89 222.48L648.39 225.98L644.89 229.48L641.39 225.98Z" fill="#E1681E"/><path d="M649.10 223.32L652.60 226.82L649.10 230.32L645.60 226.82Z" fill="#E1681E"/><path d="M653.32 224.16L656.82 227.66L653.32 231.16L649.82 227.66Z" fill="#E1681E"/><path d="M657.53 225.01L661.03 228.51L657.53 232.01L654.03 228.51Z" fill="#E1681E"/><path d="M661.74 226.03L665.24 229.53L661.74 233.03L658.24 229.53Z" fill="#E1681E"/><path d="M665.95 227.30L669.45 230.80L665.95 234.30L662.45 230.80Z" fill="#E1681E"/><path d="M670.17 228.58L673.67 232.08L670.17 235.58L666.67 232.08Z" fill="#E1681E"/><path d="M674.38 229.86L677.88 233.36L674.38 236.86L670.88 233.36Z" fill="#E1681E"/><path d="M676.53 230.50L680.03 234.00L676.53 237.50L673.03 234.00Z" fill="#E1681E"/></g>
<path d="M405.45 86.97 L410.76 87.86 L416.08 88.75 L421.40 90.70 L426.71 92.89 L432.03 95.07 L437.34 98.16 L442.66 101.25 L447.98 104.53 L453.29 108.83 L458.61 113.60 L463.92 119.62 L469.24 123.77 L474.56 127.60 L479.87 130.67 L485.19 132.98 L490.50 135.30 L495.82 137.57 L501.14 139.73 L506.45 141.88 L511.77 144.03 L517.08 146.71 L522.40 149.38 L527.68 152.04 L532.81 155.16 L537.79 158.51 L542.63 165.26 L547.33 171.00 L551.89 176.48 L556.32 183.13 L560.61 189.65 L564.58 196.28 L568.26 202.44 L571.68 205.57 L574.84 208.22 L577.77 210.51 L580.53 212.02 L583.29 213.53 L586.05 215.05 L588.80 216.56 L591.56 218.07 L594.32 219.58 L597.08 220.81 L599.84 221.60 L602.60 222.38 L605.35 223.00 L608.11 223.60 L610.87 224.12 L613.83 224.53 L617.02 224.96 L620.43 225.15 L624.10 225.32 L628.04 225.50 L632.25 225.86 L636.47 226.21 L640.68 226.56 L644.89 226.92 L649.10 227.53 L653.32 228.24 L657.53 228.94 L661.74 229.64 L665.95 230.65 L670.17 231.99 L674.38 233.33 L676.53 234.00" fill="none" stroke="#10897C" stroke-width="1.3"/>
<g><path d="M402.15 86.97L408.15 83.47L408.15 90.47Z" fill="#10897C"/><path d="M407.46 87.86L413.46 84.36L413.46 91.36Z" fill="#10897C"/><path d="M412.78 88.75L418.78 85.25L418.78 92.25Z" fill="#10897C"/><path d="M418.10 90.70L424.10 87.20L424.10 94.20Z" fill="#10897C"/><path d="M423.41 92.89L429.41 89.39L429.41 96.39Z" fill="#10897C"/><path d="M428.73 95.07L434.73 91.57L434.73 98.57Z" fill="#10897C"/><path d="M434.04 98.16L440.04 94.66L440.04 101.66Z" fill="#10897C"/><path d="M439.36 101.25L445.36 97.75L445.36 104.75Z" fill="#10897C"/><path d="M444.68 104.53L450.68 101.03L450.68 108.03Z" fill="#10897C"/><path d="M449.99 108.83L455.99 105.33L455.99 112.33Z" fill="#10897C"/><path d="M455.31 113.60L461.31 110.10L461.31 117.10Z" fill="#10897C"/><path d="M460.62 119.62L466.62 116.12L466.62 123.12Z" fill="#10897C"/><path d="M465.94 123.77L471.94 120.27L471.94 127.27Z" fill="#10897C"/><path d="M471.26 127.60L477.26 124.10L477.26 131.10Z" fill="#10897C"/><path d="M476.57 130.67L482.57 127.17L482.57 134.17Z" fill="#10897C"/><path d="M481.89 132.98L487.89 129.48L487.89 136.48Z" fill="#10897C"/><path d="M487.20 135.30L493.20 131.80L493.20 138.80Z" fill="#10897C"/><path d="M492.52 137.57L498.52 134.07L498.52 141.07Z" fill="#10897C"/><path d="M497.84 139.73L503.84 136.23L503.84 143.23Z" fill="#10897C"/><path d="M503.15 141.88L509.15 138.38L509.15 145.38Z" fill="#10897C"/><path d="M508.47 144.03L514.47 140.53L514.47 147.53Z" fill="#10897C"/><path d="M513.78 146.71L519.78 143.21L519.78 150.21Z" fill="#10897C"/><path d="M519.10 149.38L525.10 145.88L525.10 152.88Z" fill="#10897C"/><path d="M524.38 152.04L530.38 148.54L530.38 155.54Z" fill="#10897C"/><path d="M529.51 155.16L535.51 151.66L535.51 158.66Z" fill="#10897C"/><path d="M534.49 158.51L540.49 155.01L540.49 162.01Z" fill="#10897C"/><path d="M539.33 165.26L545.33 161.76L545.33 168.76Z" fill="#10897C"/><path d="M544.03 171.00L550.03 167.50L550.03 174.50Z" fill="#10897C"/><path d="M548.59 176.48L554.59 172.98L554.59 179.98Z" fill="#10897C"/><path d="M553.02 183.13L559.02 179.63L559.02 186.63Z" fill="#10897C"/><path d="M557.31 189.65L563.31 186.15L563.31 193.15Z" fill="#10897C"/><path d="M561.28 196.28L567.28 192.78L567.28 199.78Z" fill="#10897C"/><path d="M564.96 202.44L570.96 198.94L570.96 205.94Z" fill="#10897C"/><path d="M568.38 205.57L574.38 202.07L574.38 209.07Z" fill="#10897C"/><path d="M571.54 208.22L577.54 204.72L577.54 211.72Z" fill="#10897C"/><path d="M574.47 210.51L580.47 207.01L580.47 214.01Z" fill="#10897C"/><path d="M577.23 212.02L583.23 208.52L583.23 215.52Z" fill="#10897C"/><path d="M579.99 213.53L585.99 210.03L585.99 217.03Z" fill="#10897C"/><path d="M582.75 215.05L588.75 211.55L588.75 218.55Z" fill="#10897C"/><path d="M585.50 216.56L591.50 213.06L591.50 220.06Z" fill="#10897C"/><path d="M588.26 218.07L594.26 214.57L594.26 221.57Z" fill="#10897C"/><path d="M591.02 219.58L597.02 216.08L597.02 223.08Z" fill="#10897C"/><path d="M593.78 220.81L599.78 217.31L599.78 224.31Z" fill="#10897C"/><path d="M596.54 221.60L602.54 218.10L602.54 225.10Z" fill="#10897C"/><path d="M599.30 222.38L605.30 218.88L605.30 225.88Z" fill="#10897C"/><path d="M602.05 223.00L608.05 219.50L608.05 226.50Z" fill="#10897C"/><path d="M604.81 223.60L610.81 220.10L610.81 227.10Z" fill="#10897C"/><path d="M607.57 224.12L613.57 220.62L613.57 227.62Z" fill="#10897C"/><path d="M610.53 224.53L616.53 221.03L616.53 228.03Z" fill="#10897C"/><path d="M613.72 224.96L619.72 221.46L619.72 228.46Z" fill="#10897C"/><path d="M617.13 225.15L623.13 221.65L623.13 228.65Z" fill="#10897C"/><path d="M620.80 225.32L626.80 221.82L626.80 228.82Z" fill="#10897C"/><path d="M624.74 225.50L630.74 222.00L630.74 229.00Z" fill="#10897C"/><path d="M628.95 225.86L634.95 222.36L634.95 229.36Z" fill="#10897C"/><path d="M633.17 226.21L639.17 222.71L639.17 229.71Z" fill="#10897C"/><path d="M637.38 226.56L643.38 223.06L643.38 230.06Z" fill="#10897C"/><path d="M641.59 226.92L647.59 223.42L647.59 230.42Z" fill="#10897C"/><path d="M645.80 227.53L651.80 224.03L651.80 231.03Z" fill="#10897C"/><path d="M650.02 228.24L656.02 224.74L656.02 231.74Z" fill="#10897C"/><path d="M654.23 228.94L660.23 225.44L660.23 232.44Z" fill="#10897C"/><path d="M658.44 229.64L664.44 226.14L664.44 233.14Z" fill="#10897C"/><path d="M662.65 230.65L668.65 227.15L668.65 234.15Z" fill="#10897C"/><path d="M666.87 231.99L672.87 228.49L672.87 235.49Z" fill="#10897C"/><path d="M671.08 233.33L677.08 229.83L677.08 236.83Z" fill="#10897C"/><path d="M673.23 234.00L679.23 230.50L679.23 237.50Z" fill="#10897C"/></g>
<rect x="55.70" y="6.20" width="285.50" height="236.40" fill="none" stroke="#000" stroke-width="1.3"/>
<line x1="60.81" y1="242.60" x2="60.81" y2="240.40" stroke="#000" stroke-width="1"/>
<line x1="65.25" y1="242.60" x2="65.25" y2="240.40" stroke="#000" stroke-width="1"/>
<line x1="69.01" y1="242.60" x2="69.01" y2="240.40" stroke="#000" stroke-width="1"/>
<line x1="72.26" y1="242.60" x2="72.26" y2="240.40" stroke="#000" stroke-width="1"/>
<line x1="75.13" y1="242.60" x2="75.13" y2="240.40" stroke="#000" stroke-width="1"/>
<line x1="77.70" y1="242.60" x2="77.70" y2="238.60" stroke="#000" stroke-width="1"/>
<line x1="94.59" y1="242.60" x2="94.59" y2="240.40" stroke="#000" stroke-width="1"/>
<line x1="104.47" y1="242.60" x2="104.47" y2="240.40" stroke="#000" stroke-width="1"/>
<line x1="111.48" y1="242.60" x2="111.48" y2="240.40" stroke="#000" stroke-width="1"/>
<line x1="116.91" y1="242.60" x2="116.91" y2="240.40" stroke="#000" stroke-width="1"/>
<line x1="121.35" y1="242.60" x2="121.35" y2="240.40" stroke="#000" stroke-width="1"/>
<line x1="125.11" y1="242.60" x2="125.11" y2="240.40" stroke="#000" stroke-width="1"/>
<line x1="128.36" y1="242.60" x2="128.36" y2="240.40" stroke="#000" stroke-width="1"/>
<line x1="131.23" y1="242.60" x2="131.23" y2="240.40" stroke="#000" stroke-width="1"/>
<line x1="133.80" y1="242.60" x2="133.80" y2="238.60" stroke="#000" stroke-width="1"/>
<line x1="150.69" y1="242.60" x2="150.69" y2="240.40" stroke="#000" stroke-width="1"/>
<line x1="160.57" y1="242.60" x2="160.57" y2="240.40" stroke="#000" stroke-width="1"/>
<line x1="167.58" y1="242.60" x2="167.58" y2="240.40" stroke="#000" stroke-width="1"/>
<line x1="173.01" y1="242.60" x2="173.01" y2="240.40" stroke="#000" stroke-width="1"/>
<line x1="177.45" y1="242.60" x2="177.45" y2="240.40" stroke="#000" stroke-width="1"/>
<line x1="181.21" y1="242.60" x2="181.21" y2="240.40" stroke="#000" stroke-width="1"/>
<line x1="184.46" y1="242.60" x2="184.46" y2="240.40" stroke="#000" stroke-width="1"/>
<line x1="187.33" y1="242.60" x2="187.33" y2="240.40" stroke="#000" stroke-width="1"/>
<line x1="189.90" y1="242.60" x2="189.90" y2="238.60" stroke="#000" stroke-width="1"/>
<line x1="206.79" y1="242.60" x2="206.79" y2="240.40" stroke="#000" stroke-width="1"/>
<line x1="216.67" y1="242.60" x2="216.67" y2="240.40" stroke="#000" stroke-width="1"/>
<line x1="223.68" y1="242.60" x2="223.68" y2="240.40" stroke="#000" stroke-width="1"/>
<line x1="229.11" y1="242.60" x2="229.11" y2="240.40" stroke="#000" stroke-width="1"/>
<line x1="233.55" y1="242.60" x2="233.55" y2="240.40" stroke="#000" stroke-width="1"/>
<line x1="237.31" y1="242.60" x2="237.31" y2="240.40" stroke="#000" stroke-width="1"/>
<line x1="240.56" y1="242.60" x2="240.56" y2="240.40" stroke="#000" stroke-width="1"/>
<line x1="243.43" y1="242.60" x2="243.43" y2="240.40" stroke="#000" stroke-width="1"/>
<line x1="246.00" y1="242.60" x2="246.00" y2="238.60" stroke="#000" stroke-width="1"/>
<line x1="262.89" y1="242.60" x2="262.89" y2="240.40" stroke="#000" stroke-width="1"/>
<line x1="272.77" y1="242.60" x2="272.77" y2="240.40" stroke="#000" stroke-width="1"/>
<line x1="279.78" y1="242.60" x2="279.78" y2="240.40" stroke="#000" stroke-width="1"/>
<line x1="285.21" y1="242.60" x2="285.21" y2="240.40" stroke="#000" stroke-width="1"/>
<line x1="289.65" y1="242.60" x2="289.65" y2="240.40" stroke="#000" stroke-width="1"/>
<line x1="293.41" y1="242.60" x2="293.41" y2="240.40" stroke="#000" stroke-width="1"/>
<line x1="296.66" y1="242.60" x2="296.66" y2="240.40" stroke="#000" stroke-width="1"/>
<line x1="299.53" y1="242.60" x2="299.53" y2="240.40" stroke="#000" stroke-width="1"/>
<line x1="302.10" y1="242.60" x2="302.10" y2="238.60" stroke="#000" stroke-width="1"/>
<line x1="318.99" y1="242.60" x2="318.99" y2="240.40" stroke="#000" stroke-width="1"/>
<line x1="328.87" y1="242.60" x2="328.87" y2="240.40" stroke="#000" stroke-width="1"/>
<line x1="335.88" y1="242.60" x2="335.88" y2="240.40" stroke="#000" stroke-width="1"/>
<text transform="translate(69.90,259.60) scale(1,1.13)" font-size="12" font-weight="bold">10</text>
<text transform="translate(81.80,253.80) scale(1,1.13)" font-size="8" font-weight="bold">1</text>
<text transform="translate(126.00,259.60) scale(1,1.13)" font-size="12" font-weight="bold">10</text>
<text transform="translate(137.90,253.80) scale(1,1.13)" font-size="8" font-weight="bold">2</text>
<text transform="translate(182.10,259.60) scale(1,1.13)" font-size="12" font-weight="bold">10</text>
<text transform="translate(194.00,253.80) scale(1,1.13)" font-size="8" font-weight="bold">3</text>
<text transform="translate(238.20,259.60) scale(1,1.13)" font-size="12" font-weight="bold">10</text>
<text transform="translate(250.10,253.80) scale(1,1.13)" font-size="8" font-weight="bold">4</text>
<text transform="translate(294.30,259.60) scale(1,1.13)" font-size="12" font-weight="bold">10</text>
<text transform="translate(306.20,253.80) scale(1,1.13)" font-size="8" font-weight="bold">5</text>
<line x1="55.70" y1="224.90" x2="59.70" y2="224.90" stroke="#000" stroke-width="1"/>
<line x1="55.70" y1="206.70" x2="57.90" y2="206.70" stroke="#000" stroke-width="1"/>
<line x1="55.70" y1="188.50" x2="59.70" y2="188.50" stroke="#000" stroke-width="1"/>
<line x1="55.70" y1="170.30" x2="57.90" y2="170.30" stroke="#000" stroke-width="1"/>
<line x1="55.70" y1="152.10" x2="59.70" y2="152.10" stroke="#000" stroke-width="1"/>
<line x1="55.70" y1="133.90" x2="57.90" y2="133.90" stroke="#000" stroke-width="1"/>
<line x1="55.70" y1="115.70" x2="59.70" y2="115.70" stroke="#000" stroke-width="1"/>
<line x1="55.70" y1="97.50" x2="57.90" y2="97.50" stroke="#000" stroke-width="1"/>
<line x1="55.70" y1="79.30" x2="59.70" y2="79.30" stroke="#000" stroke-width="1"/>
<line x1="55.70" y1="61.10" x2="57.90" y2="61.10" stroke="#000" stroke-width="1"/>
<line x1="55.70" y1="42.90" x2="59.70" y2="42.90" stroke="#000" stroke-width="1"/>
<line x1="55.70" y1="24.70" x2="57.90" y2="24.70" stroke="#000" stroke-width="1"/>
<text transform="translate(52.20,228.85) scale(1,1.13)" font-size="12" font-weight="bold" text-anchor="end">0.00</text>
<text transform="translate(52.20,192.45) scale(1,1.13)" font-size="12" font-weight="bold" text-anchor="end">0.05</text>
<text transform="translate(52.20,156.05) scale(1,1.13)" font-size="12" font-weight="bold" text-anchor="end">0.10</text>
<text transform="translate(52.20,119.65) scale(1,1.13)" font-size="12" font-weight="bold" text-anchor="end">0.15</text>
<text transform="translate(52.20,83.25) scale(1,1.13)" font-size="12" font-weight="bold" text-anchor="end">0.20</text>
<text transform="translate(52.20,46.85) scale(1,1.13)" font-size="12" font-weight="bold" text-anchor="end">0.25</text>
<text transform="translate(52.20,10.45) scale(1,1.13)" font-size="12" font-weight="bold" text-anchor="end">0.30</text>
<text transform="translate(197.95,274.60) scale(1,1.06)" font-size="14.3" font-weight="bold" text-anchor="middle">Pore diameter (nm)</text>
<rect x="396.60" y="7.60" width="286.00" height="235.40" fill="none" stroke="#000" stroke-width="1.3"/>
<line x1="397.21" y1="243.00" x2="397.21" y2="240.80" stroke="#000" stroke-width="1"/>
<line x1="402.66" y1="243.00" x2="402.66" y2="240.80" stroke="#000" stroke-width="1"/>
<line x1="407.12" y1="243.00" x2="407.12" y2="240.80" stroke="#000" stroke-width="1"/>
<line x1="410.88" y1="243.00" x2="410.88" y2="240.80" stroke="#000" stroke-width="1"/>
<line x1="414.15" y1="243.00" x2="414.15" y2="240.80" stroke="#000" stroke-width="1"/>
<line x1="417.03" y1="243.00" x2="417.03" y2="240.80" stroke="#000" stroke-width="1"/>
<line x1="419.60" y1="243.00" x2="419.60" y2="239.00" stroke="#000" stroke-width="1"/>
<line x1="436.54" y1="243.00" x2="436.54" y2="240.80" stroke="#000" stroke-width="1"/>
<line x1="446.45" y1="243.00" x2="446.45" y2="240.80" stroke="#000" stroke-width="1"/>
<line x1="453.48" y1="243.00" x2="453.48" y2="240.80" stroke="#000" stroke-width="1"/>
<line x1="458.93" y1="243.00" x2="458.93" y2="240.80" stroke="#000" stroke-width="1"/>
<line x1="463.39" y1="243.00" x2="463.39" y2="240.80" stroke="#000" stroke-width="1"/>
<line x1="467.15" y1="243.00" x2="467.15" y2="240.80" stroke="#000" stroke-width="1"/>
<line x1="470.42" y1="243.00" x2="470.42" y2="240.80" stroke="#000" stroke-width="1"/>
<line x1="473.30" y1="243.00" x2="473.30" y2="240.80" stroke="#000" stroke-width="1"/>
<line x1="475.87" y1="243.00" x2="475.87" y2="239.00" stroke="#000" stroke-width="1"/>
<line x1="492.81" y1="243.00" x2="492.81" y2="240.80" stroke="#000" stroke-width="1"/>
<line x1="502.72" y1="243.00" x2="502.72" y2="240.80" stroke="#000" stroke-width="1"/>
<line x1="509.75" y1="243.00" x2="509.75" y2="240.80" stroke="#000" stroke-width="1"/>
<line x1="515.20" y1="243.00" x2="515.20" y2="240.80" stroke="#000" stroke-width="1"/>
<line x1="519.66" y1="243.00" x2="519.66" y2="240.80" stroke="#000" stroke-width="1"/>
<line x1="523.42" y1="243.00" x2="523.42" y2="240.80" stroke="#000" stroke-width="1"/>
<line x1="526.69" y1="243.00" x2="526.69" y2="240.80" stroke="#000" stroke-width="1"/>
<line x1="529.57" y1="243.00" x2="529.57" y2="240.80" stroke="#000" stroke-width="1"/>
<line x1="532.14" y1="243.00" x2="532.14" y2="239.00" stroke="#000" stroke-width="1"/>
<line x1="549.08" y1="243.00" x2="549.08" y2="240.80" stroke="#000" stroke-width="1"/>
<line x1="558.99" y1="243.00" x2="558.99" y2="240.80" stroke="#000" stroke-width="1"/>
<line x1="566.02" y1="243.00" x2="566.02" y2="240.80" stroke="#000" stroke-width="1"/>
<line x1="571.47" y1="243.00" x2="571.47" y2="240.80" stroke="#000" stroke-width="1"/>
<line x1="575.93" y1="243.00" x2="575.93" y2="240.80" stroke="#000" stroke-width="1"/>
<line x1="579.69" y1="243.00" x2="579.69" y2="240.80" stroke="#000" stroke-width="1"/>
<line x1="582.96" y1="243.00" x2="582.96" y2="240.80" stroke="#000" stroke-width="1"/>
<line x1="585.84" y1="243.00" x2="585.84" y2="240.80" stroke="#000" stroke-width="1"/>
<line x1="588.41" y1="243.00" x2="588.41" y2="239.00" stroke="#000" stroke-width="1"/>
<line x1="605.35" y1="243.00" x2="605.35" y2="240.80" stroke="#000" stroke-width="1"/>
<line x1="615.26" y1="243.00" x2="615.26" y2="240.80" stroke="#000" stroke-width="1"/>
<line x1="622.29" y1="243.00" x2="622.29" y2="240.80" stroke="#000" stroke-width="1"/>
<line x1="627.74" y1="243.00" x2="627.74" y2="240.80" stroke="#000" stroke-width="1"/>
<line x1="632.20" y1="243.00" x2="632.20" y2="240.80" stroke="#000" stroke-width="1"/>
<line x1="635.96" y1="243.00" x2="635.96" y2="240.80" stroke="#000" stroke-width="1"/>
<line x1="639.23" y1="243.00" x2="639.23" y2="240.80" stroke="#000" stroke-width="1"/>
<line x1="642.11" y1="243.00" x2="642.11" y2="240.80" stroke="#000" stroke-width="1"/>
<line x1="644.68" y1="243.00" x2="644.68" y2="239.00" stroke="#000" stroke-width="1"/>
<line x1="661.62" y1="243.00" x2="661.62" y2="240.80" stroke="#000" stroke-width="1"/>
<line x1="671.53" y1="243.00" x2="671.53" y2="240.80" stroke="#000" stroke-width="1"/>
<line x1="678.56" y1="243.00" x2="678.56" y2="240.80" stroke="#000" stroke-width="1"/>
<text transform="translate(411.80,260.00) scale(1,1.13)" font-size="12" font-weight="bold">10</text>
<text transform="translate(423.70,254.20) scale(1,1.13)" font-size="8" font-weight="bold">1</text>
<text transform="translate(468.07,260.00) scale(1,1.13)" font-size="12" font-weight="bold">10</text>
<text transform="translate(479.97,254.20) scale(1,1.13)" font-size="8" font-weight="bold">2</text>
<text transform="translate(524.34,260.00) scale(1,1.13)" font-size="12" font-weight="bold">10</text>
<text transform="translate(536.24,254.20) scale(1,1.13)" font-size="8" font-weight="bold">3</text>
<text transform="translate(580.61,260.00) scale(1,1.13)" font-size="12" font-weight="bold">10</text>
<text transform="translate(592.51,254.20) scale(1,1.13)" font-size="8" font-weight="bold">4</text>
<text transform="translate(636.88,260.00) scale(1,1.13)" font-size="12" font-weight="bold">10</text>
<text transform="translate(648.78,254.20) scale(1,1.13)" font-size="8" font-weight="bold">5</text>
<line x1="396.60" y1="233.40" x2="400.60" y2="233.40" stroke="#000" stroke-width="1"/>
<line x1="396.60" y1="218.97" x2="398.80" y2="218.97" stroke="#000" stroke-width="1"/>
<line x1="396.60" y1="204.53" x2="400.60" y2="204.53" stroke="#000" stroke-width="1"/>
<line x1="396.60" y1="190.09" x2="398.80" y2="190.09" stroke="#000" stroke-width="1"/>
<line x1="396.60" y1="175.66" x2="400.60" y2="175.66" stroke="#000" stroke-width="1"/>
<line x1="396.60" y1="161.23" x2="398.80" y2="161.23" stroke="#000" stroke-width="1"/>
<line x1="396.60" y1="146.79" x2="400.60" y2="146.79" stroke="#000" stroke-width="1"/>
<line x1="396.60" y1="132.36" x2="398.80" y2="132.36" stroke="#000" stroke-width="1"/>
<line x1="396.60" y1="117.92" x2="400.60" y2="117.92" stroke="#000" stroke-width="1"/>
<line x1="396.60" y1="103.49" x2="398.80" y2="103.49" stroke="#000" stroke-width="1"/>
<line x1="396.60" y1="89.05" x2="400.60" y2="89.05" stroke="#000" stroke-width="1"/>
<line x1="396.60" y1="74.62" x2="398.80" y2="74.62" stroke="#000" stroke-width="1"/>
<line x1="396.60" y1="60.18" x2="400.60" y2="60.18" stroke="#000" stroke-width="1"/>
<line x1="396.60" y1="45.75" x2="398.80" y2="45.75" stroke="#000" stroke-width="1"/>
<line x1="396.60" y1="31.31" x2="400.60" y2="31.31" stroke="#000" stroke-width="1"/>
<text transform="translate(393.10,238.55) scale(1,1.13)" font-size="12" font-weight="bold" text-anchor="end">0.00</text>
<text transform="translate(393.10,209.68) scale(1,1.13)" font-size="12" font-weight="bold" text-anchor="end">0.03</text>
<text transform="translate(393.10,180.81) scale(1,1.13)" font-size="12" font-weight="bold" text-anchor="end">0.06</text>
<text transform="translate(393.10,151.94) scale(1,1.13)" font-size="12" font-weight="bold" text-anchor="end">0.09</text>
<text transform="translate(393.10,123.07) scale(1,1.13)" font-size="12" font-weight="bold" text-anchor="end">0.12</text>
<text transform="translate(393.10,94.20) scale(1,1.13)" font-size="12" font-weight="bold" text-anchor="end">0.15</text>
<text transform="translate(393.10,65.33) scale(1,1.13)" font-size="12" font-weight="bold" text-anchor="end">0.18</text>
<text transform="translate(393.10,36.46) scale(1,1.13)" font-size="12" font-weight="bold" text-anchor="end">0.21</text>
<text transform="translate(540.30,275.00) scale(1,1.06)" font-size="14.3" font-weight="bold" text-anchor="middle">Pore diameter (nm)</text>
<line x1="255.60" y1="20.60" x2="283.60" y2="20.60" stroke="#F83262" stroke-width="1.7"/>
<rect x="267.05" y="18.05" width="5.10" height="5.10" fill="#F83262"/>
<text transform="translate(286.50,24.20) scale(1,1.125)" font-size="12" font-weight="bold">M-10-0</text>
<line x1="255.60" y1="37.00" x2="283.60" y2="37.00" stroke="#1294F2" stroke-width="1.7"/>
<circle cx="269.60" cy="37.00" r="2.90" fill="#1294F2"/>
<text transform="translate(286.50,40.60) scale(1,1.125)" font-size="12" font-weight="bold">M-10-0.05</text>
<line x1="255.60" y1="53.40" x2="283.60" y2="53.40" stroke="#F8B014" stroke-width="1.7"/>
<path d="M269.60 50.10L273.10 56.10L266.10 56.10Z" fill="#F8B014"/>
<text transform="translate(286.50,57.00) scale(1,1.125)" font-size="12" font-weight="bold">M-10-0.1</text>
<line x1="255.60" y1="69.80" x2="283.60" y2="69.80" stroke="#1852B2" stroke-width="1.7"/>
<path d="M269.60 73.10L273.10 67.10L266.10 67.10Z" fill="#1852B2"/>
<text transform="translate(286.50,73.40) scale(1,1.125)" font-size="12" font-weight="bold">M-10-0.2</text>
<line x1="255.60" y1="86.20" x2="283.60" y2="86.20" stroke="#10897C" stroke-width="1.7"/>
<path d="M266.30 86.20L272.30 82.70L272.30 89.70Z" fill="#10897C"/>
<text transform="translate(286.50,89.80) scale(1,1.125)" font-size="12" font-weight="bold">M-10-0.3</text>
<line x1="255.60" y1="102.60" x2="283.60" y2="102.60" stroke="#E1681E" stroke-width="1.7"/>
<path d="M269.60 99.10L273.10 102.60L269.60 106.10L266.10 102.60Z" fill="#E1681E"/>
<text transform="translate(286.50,106.20) scale(1,1.125)" font-size="12" font-weight="bold">M-10-0.5</text>
<line x1="597.50" y1="27.30" x2="625.50" y2="27.30" stroke="#F83262" stroke-width="1.7"/>
<rect x="608.95" y="24.75" width="5.10" height="5.10" fill="#F83262"/>
<text transform="translate(628.40,30.90) scale(1,1.125)" font-size="12" font-weight="bold">M-10-0</text>
<line x1="597.50" y1="43.90" x2="625.50" y2="43.90" stroke="#1294F2" stroke-width="1.7"/>
<circle cx="611.50" cy="43.90" r="2.90" fill="#1294F2"/>
<text transform="translate(628.40,47.50) scale(1,1.125)" font-size="12" font-weight="bold">M-10-0.05</text>
<line x1="597.50" y1="60.50" x2="625.50" y2="60.50" stroke="#F8B014" stroke-width="1.7"/>
<path d="M611.50 57.20L615.00 63.20L608.00 63.20Z" fill="#F8B014"/>
<text transform="translate(628.40,64.10) scale(1,1.125)" font-size="12" font-weight="bold">M-10-0.1</text>
<line x1="597.50" y1="77.10" x2="625.50" y2="77.10" stroke="#1852B2" stroke-width="1.7"/>
<path d="M611.50 80.40L615.00 74.40L608.00 74.40Z" fill="#1852B2"/>
<text transform="translate(628.40,80.70) scale(1,1.125)" font-size="12" font-weight="bold">M-10-0.2</text>
<line x1="597.50" y1="93.70" x2="625.50" y2="93.70" stroke="#10897C" stroke-width="1.7"/>
<path d="M608.20 93.70L614.20 90.20L614.20 97.20Z" fill="#10897C"/>
<text transform="translate(628.40,97.30) scale(1,1.125)" font-size="12" font-weight="bold">M-10-0.3</text>
<line x1="597.50" y1="110.30" x2="625.50" y2="110.30" stroke="#E1681E" stroke-width="1.7"/>
<path d="M611.50 106.80L615.00 110.30L611.50 113.80L608.00 110.30Z" fill="#E1681E"/>
<text transform="translate(628.40,113.90) scale(1,1.125)" font-size="12" font-weight="bold">M-10-0.5</text>
<text x="0.5" y="17.0" font-size="14" font-weight="bold">(a)</text>
<text x="343" y="17.7" font-size="14" font-weight="bold">(b)</text>
<text transform="translate(26.2,226.1) rotate(-90)" font-size="15.2" font-weight="bold" textLength="202.5" lengthAdjust="spacingAndGlyphs">d<tspan font-style="italic">V</tspan>/dlog<tspan font-style="italic">D</tspan> pore volume (mL/g)</text>
<text transform="translate(368.2,238.4) rotate(-90)" font-size="15.5" font-weight="bold" textLength="223" lengthAdjust="spacingAndGlyphs">Cumulative pore volume (mL/g)</text>
</svg>
</body></html>
